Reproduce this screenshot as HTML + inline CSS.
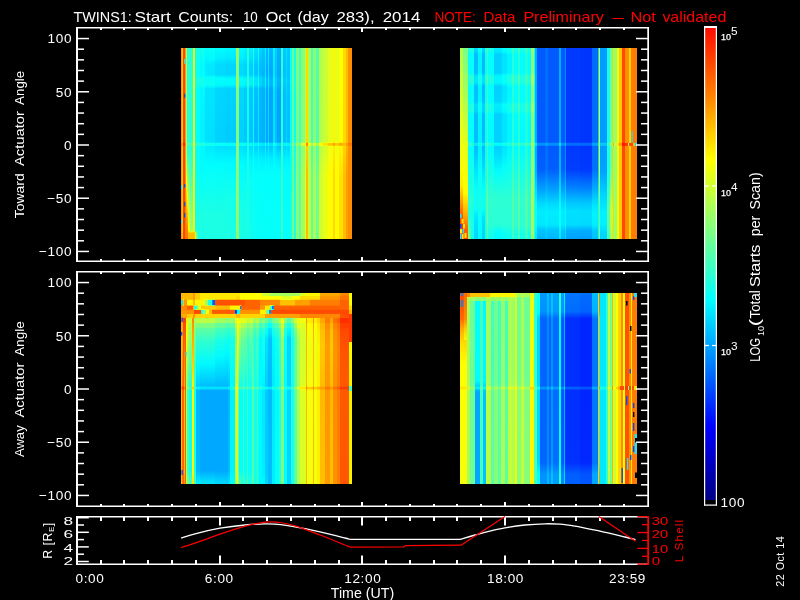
<!DOCTYPE html>
<html><head><meta charset="utf-8"><title>TWINS1 Start Counts</title>
<style>
html,body{margin:0;padding:0;background:#000;}
body{width:800px;height:600px;overflow:hidden;position:relative;font-family:"Liberation Sans", sans-serif;}
.hb{position:absolute;overflow:hidden;}
.hb i{position:absolute;top:0;bottom:0;display:block;}
.hb b{position:absolute;display:block;}
#cb{position:absolute;left:705px;top:28px;width:11px;height:472px;background:linear-gradient(to bottom,#ff0c00 0%,#ff8000 14.2%,#ffff00 28%,#80ff80 42.8%,#00ffff 57.6%,#0080ff 71%,#0000ff 84.5%,#000084 100%);}
svg{position:absolute;left:0;top:0;will-change:transform;}
svg text{font-family:"Liberation Sans", sans-serif;}
</style></head><body>
<div class="hb" style="left:181px;top:48px;width:171px;height:191px"><i style="left:0px;width:1px;background:linear-gradient(#ff9700 0px,#ff9700 93.5px,#ff9000 94.5px,#ff7400 95.5px,#ff7b00 97.5px,#ff9700 98.5px,#ff9700 191px)"></i><i style="left:1px;width:1px;background:linear-gradient(#ffd400 0px,#ffd400 93.5px,#ffcd00 94.5px,#ffb100 95.5px,#ffb800 97.5px,#ffd400 98.5px,#ffd400 182.5px,#ffba00 185.5px,#ffba00 191px)"></i><i style="left:2px;width:2px;background:linear-gradient(#ff4000 0px,#ff4000 93.5px,#ff3900 94.5px,#ff1d00 95.5px,#ff2400 97.5px,#ff4000 98.5px,#ff4000 191px)"></i><i style="left:4px;width:1px;background:linear-gradient(#ffa000 0px,#ffa000 93.5px,#ff9900 94.5px,#ff7d00 95.5px,#ff8400 97.5px,#ffa000 98.5px,#ff7400 191px)"></i><i style="left:5px;width:1px;background:linear-gradient(#a9ff56 0px,#a9ff56 93.5px,#b0ff4f 94.5px,#cbff34 95.5px,#c4ff3b 97.5px,#a9ff56 98.5px,#b8ff47 109.5px,#fffc00 134.5px,#ff8300 180.5px,#ff7400 190.5px,#ff7400 191px)"></i><i style="left:6px;width:1px;background:linear-gradient(#28ffd7 0px,#28ffd7 93.5px,#2fffd0 94.5px,#4affb5 95.5px,#43ffbc 97.5px,#28ffd7 98.5px,#31ffce 105.5px,#81ff7e 123.5px,#fffb00 152.5px,#ff9600 177.5px,#ff7400 188.5px,#ff7400 191px)"></i><i style="left:7px;width:2px;background:linear-gradient(#28ffd7 0px,#28ffd7 93.5px,#2fffd0 94.5px,#4affb5 95.5px,#43ffbc 97.5px,#28ffd7 98.5px,#38ffc7 110.5px,#e2ff1d 173.5px,#f5ff0a 182.5px,#ffc900 184.5px,#ffba00 185.5px,#ffba00 191px)"></i><i style="left:9px;width:3px;background:linear-gradient(#28ffd7 0px,#28ffd7 93.5px,#2fffd0 94.5px,#4affb5 95.5px,#43ffbc 97.5px,#28ffd7 98.5px,#3fffc0 118.5px,#a3ff5c 182.5px,#e4ff1b 183.5px,#ffd900 184.5px,#ffba00 185.5px,#ffba00 191px)"></i><i style="left:12px;width:1px;background:linear-gradient(#eeff11 0px,#eeff11 93.5px,#f5ff0a 94.5px,#ffee00 95.5px,#fff500 97.5px,#eeff11 98.5px,#eeff11 182.5px,#ffee00 183.5px,#ffcb00 184.5px,#ffba00 185.5px,#ffba00 191px)"></i><i style="left:13px;width:1px;background:linear-gradient(#eeff11 0px,#eeff11 93.5px,#f5ff0a 94.5px,#ffee00 95.5px,#fff500 97.5px,#eeff11 98.5px,#eeff11 182.5px,#fff200 183.5px,#ffd400 184.5px,#ffc400 185.5px,#ffc400 191px)"></i><i style="left:14px;width:1px;background:linear-gradient(#16ffe9 0px,#06fff9 23.5px,#08fff7 27.5px,#17ffe8 31.5px,#14ffeb 37.5px,#04fffb 41.5px,#01fffe 93.5px,#0bfff4 94.5px,#2effd1 95.5px,#28ffd7 97.5px,#06fff9 98.5px,#12ffed 145.5px,#1bffe4 173.5px,#1bffe4 182.5px,#afff50 184.5px,#d4ff2b 185.5px,#d4ff2b 191px)"></i><i style="left:15px;width:1px;background:linear-gradient(#17ffe8 0px,#06fff9 22.5px,#09fff6 27.5px,#18ffe7 31.5px,#15ffea 37.5px,#04fffb 41.5px,#01fffe 93.5px,#0bfff4 94.5px,#2effd1 95.5px,#28ffd7 97.5px,#06fff9 98.5px,#12ffed 145.5px,#1bffe4 173.5px,#1bffe4 182.5px,#74ff8b 184.5px,#8aff75 185.5px,#8aff75 191px)"></i><i style="left:16px;width:1px;background:linear-gradient(#18ffe7 0px,#06fff9 22.5px,#09fff6 27.5px,#1affe5 31.5px,#16ffe9 37.5px,#04fffb 40.5px,#01fffe 93.5px,#0bfff4 94.5px,#2effd1 95.5px,#28ffd7 97.5px,#06fff9 98.5px,#12ffed 145.5px,#1bffe4 173.5px,#1bffe4 182.5px,#40ffbf 185.5px,#40ffbf 191px)"></i><i style="left:17px;width:1px;background:linear-gradient(#19ffe6 0px,#0bfff4 13.5px,#0afff5 27.5px,#1bffe4 30.5px,#17ffe8 37.5px,#05fffa 40.5px,#01fffe 93.5px,#0bfff4 94.5px,#2effd1 95.5px,#28ffd7 97.5px,#06fff9 98.5px,#12ffed 145.5px,#1bffe4 173.5px,#1bffe4 191px)"></i><i style="left:18px;width:1px;background:linear-gradient(#1bffe4 0px,#0bfff4 13.5px,#0afff5 27.5px,#1cffe3 30.5px,#18ffe7 37.5px,#05fffa 40.5px,#01fffe 93.5px,#0bfff4 94.5px,#2effd1 95.5px,#28ffd7 97.5px,#06fff9 98.5px,#12ffed 145.5px,#1bffe4 173.5px,#1bffe4 191px)"></i><i style="left:19px;width:1px;background:linear-gradient(#0ffff0 0px,#00f9ff 19.5px,#00fcff 27.5px,#11ffee 31.5px,#0dfff2 37.5px,#00f6ff 40.5px,#00f2ff 93.5px,#00fdff 94.5px,#22ffdd 95.5px,#1bffe4 97.5px,#00f8ff 98.5px,#05fffa 130.5px,#1bffe4 164.5px,#1bffe4 191px)"></i><i style="left:20px;width:1px;background:linear-gradient(#10ffef 0px,#00f9ff 19.5px,#00fdff 27.5px,#12ffed 31.5px,#0efff1 37.5px,#00f6ff 40.5px,#00f2ff 93.5px,#00fdff 94.5px,#22ffdd 95.5px,#1bffe4 97.5px,#00f8ff 98.5px,#05fffa 130.5px,#1bffe4 164.5px,#1bffe4 191px)"></i><i style="left:21px;width:1px;background:linear-gradient(#11ffee 0px,#02fffd 12.5px,#00fdff 27.5px,#13ffec 30.5px,#0ffff0 37.5px,#00f7ff 40.5px,#00f2ff 93.5px,#00fdff 94.5px,#22ffdd 95.5px,#1bffe4 97.5px,#00f8ff 98.5px,#05fffa 130.5px,#1bffe4 164.5px,#1bffe4 191px)"></i><i style="left:22px;width:1px;background:linear-gradient(#12ffed 0px,#03fffc 12.5px,#00feff 27.5px,#14ffeb 30.5px,#10ffef 37.5px,#00fcff 39.5px,#00f2ff 63.5px,#00f2ff 93.5px,#00fdff 94.5px,#22ffdd 95.5px,#1bffe4 97.5px,#00f8ff 98.5px,#05fffa 130.5px,#1bffe4 164.5px,#1bffe4 191px)"></i><i style="left:23px;width:1px;background:linear-gradient(#14ffeb 0px,#06fff9 11.5px,#00f9ff 25.5px,#00feff 27.5px,#16ffe9 30.5px,#11ffee 37.5px,#00fdff 39.5px,#00f2ff 60.5px,#00f2ff 93.5px,#00fdff 94.5px,#22ffdd 95.5px,#1bffe4 97.5px,#00f8ff 98.5px,#05fffa 130.5px,#1bffe4 164.5px,#1bffe4 191px)"></i><i style="left:24px;width:1px;background:linear-gradient(#03fffc 0px,#00f7ff 10.5px,#00e8ff 17.5px,#00ecff 27.5px,#01fffe 29.5px,#01fffe 37.5px,#00e4ff 40.5px,#00e0ff 93.5px,#00ecff 94.5px,#13ffec 95.5px,#0efff1 97.5px,#00ebff 98.5px,#01fffe 118.5px,#1bffe4 166.5px,#1bffe4 191px)"></i><i style="left:25px;width:1px;background:linear-gradient(#04fffb 0px,#00f7ff 10.5px,#00e8ff 17.5px,#00ecff 27.5px,#02fffd 29.5px,#06fff9 36.5px,#00f5ff 38.5px,#00e4ff 40.5px,#00e0ff 93.5px,#00ecff 94.5px,#13ffec 95.5px,#0efff1 97.5px,#00ebff 98.5px,#01fffe 118.5px,#1bffe4 166.5px,#1bffe4 191px)"></i><i style="left:26px;width:1px;background:linear-gradient(#05fffa 0px,#00f8ff 10.5px,#00e8ff 17.5px,#00ecff 27.5px,#02fffd 29.5px,#07fff8 36.5px,#00f6ff 38.5px,#00e5ff 40.5px,#00e0ff 93.5px,#00ecff 94.5px,#13ffec 95.5px,#0efff1 97.5px,#00ebff 98.5px,#01fffe 118.5px,#1bffe4 166.5px,#1bffe4 191px)"></i><i style="left:27px;width:1px;background:linear-gradient(#06fff9 0px,#00f9ff 10.5px,#00e9ff 17.5px,#00e7ff 26.5px,#03fffc 29.5px,#08fff7 36.5px,#00f6ff 38.5px,#00e5ff 40.5px,#00e0ff 93.5px,#00ecff 94.5px,#13ffec 95.5px,#0efff1 97.5px,#00ebff 98.5px,#01fffe 118.5px,#1bffe4 166.5px,#1bffe4 191px)"></i><i style="left:28px;width:1px;background:linear-gradient(#07fff8 0px,#00f9ff 10.5px,#00e9ff 17.5px,#00e7ff 26.5px,#04fffb 29.5px,#09fff6 36.5px,#00f7ff 38.5px,#00e5ff 40.5px,#00e0ff 93.5px,#00ecff 94.5px,#13ffec 95.5px,#0efff1 97.5px,#00ebff 98.5px,#01fffe 118.5px,#1bffe4 166.5px,#1bffe4 191px)"></i><i style="left:29px;width:1px;background:linear-gradient(#08fff7 0px,#00faff 10.5px,#00e9ff 17.5px,#00e7ff 26.5px,#05fffa 29.5px,#0afff5 36.5px,#00f8ff 38.5px,#00e5ff 40.5px,#00dfff 92.5px,#00e0ff 93.5px,#00ecff 94.5px,#13ffec 95.5px,#0efff1 97.5px,#00ebff 98.5px,#01fffe 118.5px,#1bffe4 166.5px,#1bffe4 191px)"></i><i style="left:30px;width:1px;background:linear-gradient(#08fff7 0px,#00faff 10.5px,#00e9ff 17.5px,#00e8ff 26.5px,#05fffa 29.5px,#0bfff4 36.5px,#00f8ff 38.5px,#00e5ff 40.5px,#00dfff 92.5px,#00e0ff 93.5px,#00ecff 94.5px,#13ffec 95.5px,#0efff1 97.5px,#00ebff 98.5px,#01fffe 118.5px,#1bffe4 166.5px,#1bffe4 191px)"></i><i style="left:31px;width:1px;background:linear-gradient(#09fff6 0px,#00fbff 10.5px,#00eaff 16.5px,#00e8ff 26.5px,#06fff9 29.5px,#0cfff3 36.5px,#00f9ff 38.5px,#00e5ff 40.5px,#00dfff 92.5px,#00e0ff 93.5px,#00ecff 94.5px,#13ffec 95.5px,#0efff1 97.5px,#00ebff 98.5px,#01fffe 118.5px,#1bffe4 166.5px,#1bffe4 191px)"></i><i style="left:32px;width:1px;background:linear-gradient(#0afff5 0px,#00fcff 10.5px,#00eaff 16.5px,#00e8ff 26.5px,#07fff8 29.5px,#0cfff3 36.5px,#00f9ff 38.5px,#00e5ff 40.5px,#00dfff 89.5px,#00e0ff 93.5px,#00ecff 94.5px,#13ffec 95.5px,#0efff1 97.5px,#00ebff 98.5px,#01fffe 118.5px,#1bffe4 166.5px,#1bffe4 191px)"></i><i style="left:33px;width:1px;background:linear-gradient(#0bfff4 0px,#00fcff 10.5px,#00eaff 16.5px,#00e8ff 26.5px,#00fbff 28.5px,#0dfff2 31.5px,#0dfff2 36.5px,#00faff 38.5px,#00e6ff 40.5px,#00dfff 86.5px,#00e0ff 93.5px,#00ecff 94.5px,#13ffec 95.5px,#0efff1 97.5px,#00ebff 98.5px,#01fffe 118.5px,#1bffe4 166.5px,#1bffe4 191px)"></i><i style="left:34px;width:10px;background:linear-gradient(#00fdff 0px,#00eeff 10.5px,#00dcff 16.5px,#00daff 26.5px,#01fffe 30.5px,#00f9ff 37.5px,#00d7ff 40.5px,#00d1ff 85.5px,#00d2ff 93.5px,#00dfff 94.5px,#08fff7 95.5px,#05fffa 97.5px,#00e1ff 98.5px,#00fdff 116.5px,#1bffe4 166.5px,#1bffe4 191px)"></i><i style="left:44px;width:11px;background:linear-gradient(#00f8ff 0px,#00e9ff 10.5px,#00d7ff 16.5px,#00d5ff 26.5px,#00fbff 30.5px,#00fbff 36.5px,#00d3ff 40.5px,#00ccff 85.5px,#00cdff 93.5px,#00daff 94.5px,#04fffb 95.5px,#02fffd 97.5px,#00deff 98.5px,#00faff 114.5px,#15ffea 150.5px,#1bffe4 191px)"></i><i style="left:55px;width:3px;background:linear-gradient(#a6ff59 0px,#95ff6a 11.5px,#88ff77 17.5px,#86ff79 26.5px,#a9ff56 30.5px,#a9ff56 36.5px,#84ff7b 40.5px,#7eff81 93.5px,#88ff77 94.5px,#abff54 95.5px,#a5ff5a 97.5px,#83ff7c 98.5px,#8fff70 145.5px,#8fff70 191px)"></i><i style="left:58px;width:1px;background:linear-gradient(#00fdff 0px,#00eeff 10.5px,#00dcff 16.5px,#00daff 26.5px,#01fffe 30.5px,#00f9ff 37.5px,#00d7ff 40.5px,#00d1ff 85.5px,#00d2ff 93.5px,#00dfff 94.5px,#08fff7 95.5px,#05fffa 97.5px,#00e1ff 98.5px,#00fdff 116.5px,#1bffe4 166.5px,#1bffe4 191px)"></i><i style="left:59px;width:1px;background:linear-gradient(#00fdff 0px,#00eeff 10.5px,#00dcff 16.5px,#00daff 26.5px,#01fffe 30.5px,#00f9ff 37.5px,#00d7ff 40.5px,#00d1ff 85.5px,#00d2ff 93.5px,#00dfff 94.5px,#08fff7 95.5px,#05fffa 97.5px,#00e1ff 98.5px,#00fdff 116.5px,#1affe5 166.5px,#1affe5 191px)"></i><i style="left:60px;width:1px;background:linear-gradient(#00fdff 0px,#00eeff 10.5px,#00dcff 16.5px,#00daff 26.5px,#01fffe 30.5px,#00f9ff 37.5px,#00d7ff 40.5px,#00d1ff 85.5px,#00d2ff 93.5px,#00dfff 94.5px,#08fff7 95.5px,#05fffa 97.5px,#00e1ff 98.5px,#00fdff 116.5px,#19ffe6 166.5px,#19ffe6 191px)"></i><i style="left:61px;width:1px;background:linear-gradient(#00fdff 0px,#00eeff 10.5px,#00dcff 16.5px,#00daff 26.5px,#01fffe 30.5px,#00f9ff 37.5px,#00d7ff 40.5px,#00d1ff 85.5px,#00d2ff 93.5px,#00dfff 94.5px,#08fff7 95.5px,#05fffa 97.5px,#00e1ff 98.5px,#00fdff 116.5px,#18ffe7 167.5px,#18ffe7 191px)"></i><i style="left:62px;width:1px;background:linear-gradient(#00fdff 0px,#00eeff 10.5px,#00dcff 16.5px,#00daff 26.5px,#01fffe 30.5px,#00f9ff 37.5px,#00d7ff 40.5px,#00d1ff 85.5px,#00d2ff 93.5px,#00dfff 94.5px,#08fff7 95.5px,#05fffa 97.5px,#00e1ff 98.5px,#00fdff 116.5px,#17ffe8 168.5px,#17ffe8 191px)"></i><i style="left:63px;width:1px;background:linear-gradient(#00f4ff 0px,#00e5ff 10.5px,#00d3ff 16.5px,#00d1ff 26.5px,#00f6ff 30.5px,#00f6ff 36.5px,#00ceff 40.5px,#00c7ff 85.5px,#00c9ff 93.5px,#00d6ff 94.5px,#00ffff 95.5px,#00fdff 97.5px,#00dbff 98.5px,#00f8ff 113.5px,#0afff5 138.5px,#16ffe9 169.5px,#16ffe9 191px)"></i><i style="left:64px;width:1px;background:linear-gradient(#00f4ff 0px,#00e5ff 10.5px,#00d3ff 16.5px,#00d1ff 26.5px,#00f6ff 30.5px,#00f6ff 36.5px,#00ceff 40.5px,#00c7ff 85.5px,#00c9ff 93.5px,#00d6ff 94.5px,#00ffff 95.5px,#00fdff 97.5px,#00dbff 98.5px,#00f8ff 113.5px,#09fff6 138.5px,#15ffea 171.5px,#15ffea 191px)"></i><i style="left:65px;width:1px;background:linear-gradient(#00f4ff 0px,#00e5ff 10.5px,#00d3ff 16.5px,#00d1ff 26.5px,#00f6ff 30.5px,#00f6ff 36.5px,#00ceff 40.5px,#00c7ff 85.5px,#00c9ff 93.5px,#00d6ff 94.5px,#00ffff 95.5px,#00fdff 97.5px,#00dbff 98.5px,#00f8ff 113.5px,#09fff6 138.5px,#14ffeb 173.5px,#14ffeb 191px)"></i><i style="left:66px;width:2px;background:linear-gradient(#36ffc9 0px,#25ffda 11.5px,#18ffe7 17.5px,#16ffe9 26.5px,#39ffc6 30.5px,#39ffc6 36.5px,#14ffeb 40.5px,#0efff1 93.5px,#18ffe7 94.5px,#3bffc4 95.5px,#35ffca 97.5px,#13ffec 98.5px,#1fffe0 145.5px,#1fffe0 191px)"></i><i style="left:68px;width:1px;background:linear-gradient(#00efff 0px,#00e0ff 10.5px,#00ceff 16.5px,#00ccff 26.5px,#00f2ff 30.5px,#00f2ff 36.5px,#00c9ff 40.5px,#00c2ff 85.5px,#00c4ff 93.5px,#00d2ff 94.5px,#00fbff 95.5px,#00faff 97.5px,#00d8ff 98.5px,#00f7ff 113.5px,#05fffa 132.5px,#10ffef 177.5px,#10ffef 191px)"></i><i style="left:69px;width:1px;background:linear-gradient(#00efff 0px,#00e0ff 10.5px,#00ceff 16.5px,#00ccff 26.5px,#00f2ff 30.5px,#00f2ff 36.5px,#00c9ff 40.5px,#00c2ff 85.5px,#00c4ff 93.5px,#00d2ff 94.5px,#00fbff 95.5px,#00faff 97.5px,#00d8ff 98.5px,#00f7ff 113.5px,#05fffa 132.5px,#0ffff0 181.5px,#0ffff0 191px)"></i><i style="left:70px;width:1px;background:linear-gradient(#00efff 0px,#00e0ff 10.5px,#00ceff 16.5px,#00ccff 26.5px,#00f2ff 30.5px,#00f2ff 36.5px,#00c9ff 40.5px,#00c2ff 85.5px,#00c4ff 93.5px,#00d2ff 94.5px,#00fbff 95.5px,#00faff 97.5px,#00d8ff 98.5px,#00f7ff 113.5px,#05fffa 132.5px,#0efff1 188.5px,#0efff1 191px)"></i><i style="left:71px;width:1px;background:linear-gradient(#00efff 0px,#00e0ff 10.5px,#00ceff 16.5px,#00ccff 26.5px,#00f2ff 30.5px,#00f2ff 36.5px,#00c9ff 40.5px,#00c2ff 85.5px,#00c4ff 93.5px,#00d2ff 94.5px,#00fbff 95.5px,#00faff 97.5px,#00d8ff 98.5px,#00f7ff 113.5px,#05fffa 132.5px,#0dfff2 191px)"></i><i style="left:72px;width:1px;background:linear-gradient(#25ffda 0px,#14ffeb 11.5px,#07fff8 17.5px,#05fffa 26.5px,#28ffd7 30.5px,#28ffd7 36.5px,#03fffc 40.5px,#00fcff 93.5px,#07fff8 94.5px,#2affd5 95.5px,#24ffdb 97.5px,#02fffd 98.5px,#0efff1 145.5px,#0efff1 191px)"></i><i style="left:73px;width:1px;background:linear-gradient(#00e5ff 0px,#00d6ff 10.5px,#00c4ff 16.5px,#00c2ff 26.5px,#00e8ff 30.5px,#00e8ff 36.5px,#00c0ff 40.5px,#00b9ff 85.5px,#00bbff 93.5px,#00c9ff 94.5px,#00f3ff 95.5px,#00f3ff 97.5px,#00d1ff 98.5px,#00f4ff 112.5px,#04fffb 127.5px,#0bfff4 191px)"></i><i style="left:74px;width:1px;background:linear-gradient(#00e4ff 0px,#00d6ff 10.5px,#00c4ff 16.5px,#00c2ff 26.5px,#00e7ff 30.5px,#00e7ff 36.5px,#00c0ff 40.5px,#00b9ff 87.5px,#00bbff 93.5px,#00c9ff 94.5px,#00f3ff 95.5px,#00f3ff 97.5px,#00d1ff 98.5px,#00f4ff 112.5px,#04fffb 127.5px,#0afff5 191px)"></i><i style="left:75px;width:1px;background:linear-gradient(#00e3ff 0px,#00d5ff 10.5px,#00c4ff 16.5px,#00c2ff 26.5px,#00e5ff 30.5px,#00e5ff 36.5px,#00bfff 40.5px,#00b9ff 92.5px,#00bbff 93.5px,#00c9ff 94.5px,#00f3ff 95.5px,#00f3ff 97.5px,#00d1ff 98.5px,#00f4ff 112.5px,#04fffb 127.5px,#09fff6 191px)"></i><i style="left:76px;width:1px;background:linear-gradient(#00e1ff 0px,#00d0ff 11.5px,#00c3ff 17.5px,#00c1ff 26.5px,#00e3ff 30.5px,#00e3ff 36.5px,#00bfff 40.5px,#00b9ff 92.5px,#00bbff 93.5px,#00c9ff 94.5px,#00f3ff 95.5px,#00f3ff 97.5px,#00d1ff 98.5px,#00f4ff 112.5px,#04fffb 127.5px,#08fff7 191px)"></i><i style="left:77px;width:1px;background:linear-gradient(#0efff1 0px,#00fbff 12.5px,#00f1ff 20.5px,#00f6ff 27.5px,#0bfff4 29.5px,#10ffef 36.5px,#00ffff 38.5px,#00eeff 40.5px,#00e9ff 93.5px,#00f4ff 94.5px,#1affe5 95.5px,#15ffea 97.5px,#00f1ff 98.5px,#03fffc 120.5px,#07fff8 191px)"></i><i style="left:78px;width:1px;background:linear-gradient(#00d8ff 0px,#00c9ff 11.5px,#00bdff 18.5px,#00c1ff 27.5px,#00daff 30.5px,#00d5ff 37.5px,#00baff 40.5px,#00b6ff 93.5px,#00c5ff 94.5px,#00efff 95.5px,#00efff 97.5px,#00ceff 98.5px,#00f2ff 111.5px,#03fffc 126.5px,#06fff9 191px)"></i><i style="left:79px;width:1px;background:linear-gradient(#00d6ff 0px,#00c8ff 11.5px,#00bdff 18.5px,#00c0ff 27.5px,#00d8ff 30.5px,#00d3ff 37.5px,#00b9ff 40.5px,#00b6ff 93.5px,#00c5ff 94.5px,#00efff 95.5px,#00efff 97.5px,#00ceff 98.5px,#00f2ff 111.5px,#03fffc 126.5px,#05fffa 191px)"></i><i style="left:80px;width:1px;background:linear-gradient(#00d4ff 0px,#00c7ff 11.5px,#00bcff 19.5px,#00c0ff 27.5px,#00d6ff 30.5px,#00d2ff 37.5px,#00b9ff 40.5px,#00b6ff 93.5px,#00c5ff 94.5px,#00efff 95.5px,#00efff 97.5px,#00ceff 98.5px,#00f2ff 111.5px,#03fffc 126.5px,#05fffa 191px)"></i><i style="left:81px;width:1px;background:linear-gradient(#00c9ff 0px,#00b9ff 12.5px,#00b1ff 25.5px,#00beff 28.5px,#00cbff 31.5px,#00c6ff 37.5px,#00afff 40.5px,#00adff 93.5px,#00bcff 94.5px,#00e7ff 95.5px,#00e8ff 97.5px,#00c8ff 98.5px,#00efff 111.5px,#03fffc 125.5px,#05fffa 191px)"></i><i style="left:82px;width:1px;background:linear-gradient(#00c7ff 0px,#00b9ff 12.5px,#00b1ff 26.5px,#00c9ff 30.5px,#00c5ff 37.5px,#00afff 40.5px,#00adff 93.5px,#00bcff 94.5px,#00e7ff 95.5px,#00e8ff 97.5px,#00c8ff 98.5px,#00efff 111.5px,#03fffc 125.5px,#05fffa 191px)"></i><i style="left:83px;width:1px;background:linear-gradient(#00c5ff 0px,#00b8ff 12.5px,#00b0ff 26.5px,#00c7ff 30.5px,#00c3ff 37.5px,#00afff 40.5px,#00adff 93.5px,#00bcff 94.5px,#00e7ff 95.5px,#00e8ff 97.5px,#00c8ff 98.5px,#00efff 111.5px,#03fffc 125.5px,#05fffa 191px)"></i><i style="left:84px;width:1px;background:linear-gradient(#00f3ff 0px,#00e4ff 13.5px,#00e3ff 27.5px,#00f4ff 30.5px,#00f1ff 37.5px,#00deff 40.5px,#00dbff 93.5px,#00e7ff 94.5px,#0ffff0 95.5px,#0bfff4 97.5px,#00e8ff 98.5px,#01fffe 118.5px,#05fffa 191px)"></i><i style="left:85px;width:1px;background:linear-gradient(#00bdff 0px,#00abff 22.5px,#00aeff 27.5px,#00beff 31.5px,#00bbff 37.5px,#00a9ff 41.5px,#00a9ff 93.5px,#00b8ff 94.5px,#00e3ff 95.5px,#00e5ff 97.5px,#00c4ff 98.5px,#00ecff 110.5px,#02fffd 125.5px,#05fffa 191px)"></i><i style="left:86px;width:1px;background:linear-gradient(#00bbff 0px,#00abff 23.5px,#00adff 27.5px,#00bcff 31.5px,#00b9ff 37.5px,#00a9ff 41.5px,#00a9ff 93.5px,#00b8ff 94.5px,#00e3ff 95.5px,#00e5ff 97.5px,#00c4ff 98.5px,#00ecff 110.5px,#02fffd 125.5px,#05fffa 191px)"></i><i style="left:87px;width:1px;background:linear-gradient(#00eeff 0px,#00deff 24.5px,#00e7ff 28.5px,#00efff 32.5px,#00ecff 37.5px,#00ddff 41.5px,#00dbff 93.5px,#00e7ff 94.5px,#0ffff0 95.5px,#0bfff4 97.5px,#00e8ff 98.5px,#01fffe 118.5px,#05fffa 191px)"></i><i style="left:88px;width:1px;background:linear-gradient(#00b5ff 0px,#00a6ff 24.5px,#00aeff 28.5px,#00b6ff 33.5px,#00b3ff 37.5px,#00a4ff 41.5px,#00a4ff 93.5px,#00b3ff 94.5px,#00dfff 95.5px,#00e1ff 97.5px,#00c1ff 98.5px,#00ebff 110.5px,#02fffd 124.5px,#05fffa 191px)"></i><i style="left:89px;width:1px;background:linear-gradient(#00b4ff 0px,#00a5ff 24.5px,#00adff 28.5px,#00b6ff 33.5px,#00b3ff 37.5px,#00a4ff 41.5px,#00a4ff 93.5px,#00b3ff 94.5px,#00dfff 95.5px,#00e1ff 97.5px,#00c1ff 98.5px,#00ebff 110.5px,#02fffd 124.5px,#05fffa 191px)"></i><i style="left:90px;width:2px;background:linear-gradient(#00b4ff 0px,#00a5ff 25.5px,#00b5ff 32.5px,#00b2ff 37.5px,#00a4ff 41.5px,#00a4ff 93.5px,#00b3ff 94.5px,#00dfff 95.5px,#00e1ff 97.5px,#00c1ff 98.5px,#00ebff 110.5px,#02fffd 124.5px,#05fffa 191px)"></i><i style="left:92px;width:1px;background:linear-gradient(#00f6ff 0px,#00e7ff 25.5px,#00f7ff 32.5px,#00f4ff 37.5px,#00e6ff 41.5px,#00e4ff 93.5px,#00f0ff 94.5px,#16ffe9 95.5px,#11ffee 97.5px,#00eeff 98.5px,#02fffd 119.5px,#05fffa 191px)"></i><i style="left:93px;width:1px;background:linear-gradient(#00f5ff 0px,#00e7ff 26.5px,#00f6ff 31.5px,#00f4ff 37.5px,#00e6ff 41.5px,#00e4ff 93.5px,#00f0ff 94.5px,#16ffe9 95.5px,#11ffee 97.5px,#00eeff 98.5px,#02fffd 119.5px,#05fffa 191px)"></i><i style="left:94px;width:1px;background:linear-gradient(#00cfff 0px,#00c1ff 26.5px,#00d0ff 32.5px,#00ceff 37.5px,#00c0ff 41.5px,#00c0ff 93.5px,#00cdff 94.5px,#00f7ff 95.5px,#00f6ff 97.5px,#00d4ff 98.5px,#00f5ff 112.5px,#04fffb 128.5px,#05fffa 191px)"></i><i style="left:95px;width:1px;background:linear-gradient(#00cfff 0px,#00c1ff 26.5px,#00d0ff 32.5px,#00cdff 37.5px,#00c0ff 42.5px,#00c0ff 93.5px,#00cdff 94.5px,#00f7ff 95.5px,#00f6ff 97.5px,#00d4ff 98.5px,#00f5ff 112.5px,#04fffb 128.5px,#05fffa 191px)"></i><i style="left:96px;width:1px;background:linear-gradient(#00b2ff 0px,#00a5ff 26.5px,#00b3ff 32.5px,#00b0ff 37.5px,#00a3ff 42.5px,#00a4ff 93.5px,#00b3ff 94.5px,#00dfff 95.5px,#00e1ff 97.5px,#00c1ff 98.5px,#00ebff 110.5px,#02fffd 124.5px,#05fffa 191px)"></i><i style="left:97px;width:1px;background:linear-gradient(#00b2ff 0px,#00a5ff 26.5px,#00b3ff 32.5px,#00abff 38.5px,#00a3ff 44.5px,#00a4ff 93.5px,#00b3ff 94.5px,#00dfff 95.5px,#00e1ff 97.5px,#00c1ff 98.5px,#00ebff 110.5px,#02fffd 124.5px,#05fffa 191px)"></i><i style="left:98px;width:2px;background:linear-gradient(#00b1ff 0px,#00a5ff 26.5px,#00b2ff 32.5px,#00abff 38.5px,#00a3ff 45.5px,#00a4ff 93.5px,#00b3ff 94.5px,#00dfff 95.5px,#00e1ff 97.5px,#00c1ff 98.5px,#00ebff 110.5px,#02fffd 124.5px,#05fffa 191px)"></i><i style="left:100px;width:1px;background:linear-gradient(#36ffc9 0px,#2bffd4 26.5px,#36ffc9 32.5px,#30ffcf 38.5px,#28ffd7 49.5px,#28ffd7 93.5px,#32ffcd 94.5px,#55ffaa 95.5px,#4fffb0 97.5px,#2dffd2 98.5px,#39ffc6 145.5px,#39ffc6 191px)"></i><i style="left:101px;width:1px;background:linear-gradient(#35ffca 0px,#2bffd4 26.5px,#36ffc9 33.5px,#30ffcf 38.5px,#28ffd7 51.5px,#28ffd7 93.5px,#32ffcd 94.5px,#55ffaa 95.5px,#4fffb0 97.5px,#2dffd2 98.5px,#39ffc6 145.5px,#39ffc6 191px)"></i><i style="left:102px;width:1px;background:linear-gradient(#00ccff 0px,#00c1ff 26.5px,#00cdff 32.5px,#00c7ff 38.5px,#00beff 47.5px,#00c0ff 93.5px,#00cdff 94.5px,#00f7ff 95.5px,#00f6ff 97.5px,#00d4ff 98.5px,#00f5ff 112.5px,#04fffb 128.5px,#05fffa 191px)"></i><i style="left:103px;width:1px;background:linear-gradient(#00ccff 0px,#00c1ff 26.5px,#00cdff 32.5px,#00c6ff 38.5px,#00beff 48.5px,#00c0ff 93.5px,#00cdff 94.5px,#00f7ff 95.5px,#00f6ff 97.5px,#00d4ff 98.5px,#00f5ff 112.5px,#04fffb 128.5px,#05fffa 191px)"></i><i style="left:104px;width:1px;background:linear-gradient(#00ccff 0px,#00c1ff 26.5px,#00ccff 32.5px,#00c6ff 38.5px,#00beff 49.5px,#00c0ff 93.5px,#00cdff 94.5px,#00f7ff 95.5px,#00f6ff 97.5px,#00d4ff 98.5px,#00f5ff 112.5px,#04fffb 128.5px,#05fffa 191px)"></i><i style="left:105px;width:1px;background:linear-gradient(#00e3ff 0px,#00d8ff 26.5px,#00e4ff 33.5px,#00deff 38.5px,#00d5ff 51.5px,#00d7ff 93.5px,#00e3ff 94.5px,#0bfff4 95.5px,#08fff7 97.5px,#00e4ff 98.5px,#00ffff 117.5px,#05fffa 191px)"></i><i style="left:106px;width:1px;background:linear-gradient(#00cbff 0px,#00c2ff 27.5px,#00ccff 33.5px,#00c2ff 39.5px,#00c0ff 93.5px,#00cdff 94.5px,#00f7ff 95.5px,#00f6ff 97.5px,#00d4ff 98.5px,#00f5ff 112.5px,#04fffb 128.5px,#05fffa 191px)"></i><i style="left:107px;width:1px;background:linear-gradient(#00caff 0px,#00c2ff 27.5px,#00cbff 33.5px,#00c2ff 39.5px,#00c0ff 93.5px,#00cdff 94.5px,#00f7ff 95.5px,#00f6ff 97.5px,#00d4ff 98.5px,#00f5ff 112.5px,#04fffb 128.5px,#05fffa 191px)"></i><i style="left:108px;width:1px;background:linear-gradient(#00caff 0px,#00c2ff 27.5px,#00cbff 33.5px,#00bfff 46.5px,#00c0ff 93.5px,#00cdff 94.5px,#00f7ff 95.5px,#00f6ff 97.5px,#00d4ff 98.5px,#00f5ff 112.5px,#04fffb 128.5px,#05fffa 191px)"></i><i style="left:109px;width:1px;background:linear-gradient(#10ffef 0px,#09fff6 27.5px,#11ffee 35.5px,#06fff9 45.5px,#06fff9 93.5px,#0ffff0 94.5px,#33ffcc 95.5px,#2cffd3 97.5px,#0bfff4 98.5px,#16ffe9 145.5px,#16ffe9 191px)"></i><i style="left:110px;width:1px;background:linear-gradient(#10ffef 0px,#09fff6 27.5px,#11ffee 35.5px,#06fff9 46.5px,#06fff9 93.5px,#0ffff0 94.5px,#33ffcc 95.5px,#2cffd3 97.5px,#0bfff4 98.5px,#16ffe9 145.5px,#16ffe9 191px)"></i><i style="left:111px;width:1px;background:linear-gradient(#66ff99 0px,#5fffa0 27.5px,#66ff99 36.5px,#5cffa3 45.5px,#5cffa3 93.5px,#65ff9a 94.5px,#89ff76 95.5px,#82ff7d 97.5px,#61ff9e 98.5px,#6dff92 145.5px,#6dff92 191px)"></i><i style="left:112px;width:1px;background:linear-gradient(#65ff9a 0px,#5fffa0 27.5px,#66ff99 36.5px,#5cffa3 45.5px,#5cffa3 93.5px,#65ff9a 94.5px,#89ff76 95.5px,#82ff7d 97.5px,#61ff9e 98.5px,#6dff92 145.5px,#6dff92 191px)"></i><i style="left:113px;width:1px;background:linear-gradient(#18ffe7 0px,#11ffee 27.5px,#18ffe7 36.5px,#0ffff0 45.5px,#0efff1 93.5px,#18ffe7 94.5px,#3bffc4 95.5px,#35ffca 97.5px,#13ffec 98.5px,#1fffe0 145.5px,#1fffe0 191px)"></i><i style="left:114px;width:1px;background:linear-gradient(#17ffe8 0px,#11ffee 27.5px,#18ffe7 36.5px,#0efff1 46.5px,#0efff1 93.5px,#18ffe7 94.5px,#3bffc4 95.5px,#35ffca 97.5px,#13ffec 98.5px,#1fffe0 145.5px,#1fffe0 191px)"></i><i style="left:115px;width:2px;background:linear-gradient(#7eff81 0px,#7bff84 28.5px,#7bff84 38.5px,#76ff89 93.5px,#7fff80 94.5px,#a3ff5c 95.5px,#9cff63 97.5px,#7bff84 98.5px,#86ff79 145.5px,#86ff79 191px)"></i><i style="left:117px;width:1px;background:linear-gradient(#7eff81 0px,#7bff84 28.5px,#7aff85 38.5px,#76ff89 93.5px,#7fff80 94.5px,#a3ff5c 95.5px,#9cff63 97.5px,#7bff84 98.5px,#86ff79 145.5px,#86ff79 191px)"></i><i style="left:118px;width:1px;background:linear-gradient(#4affb5 0px,#47ffb8 28.5px,#47ffb8 38.5px,#42ffbd 93.5px,#4cffb3 94.5px,#6fff90 95.5px,#68ff97 97.5px,#47ffb8 98.5px,#53ffac 145.5px,#53ffac 191px)"></i><i style="left:119px;width:1px;background:linear-gradient(#41ffbe 0px,#42ffbd 93.5px,#54ffab 94.5px,#93ff6c 95.5px,#95ff6a 96.5px,#87ff78 97.5px,#4bffb4 98.5px,#5fffa0 127.5px,#60ff9f 191px)"></i><i style="left:120px;width:4px;background:linear-gradient(#86ff79 0px,#87ff78 93.5px,#99ff66 94.5px,#d8ff27 95.5px,#daff25 96.5px,#ccff33 97.5px,#90ff6f 98.5px,#a4ff5b 127.5px,#a5ff5a 191px)"></i><i style="left:124px;width:1px;background:linear-gradient(#baff45 0px,#bbff44 93.5px,#ccff33 94.5px,#fff200 95.5px,#fff000 96.5px,#fffe00 97.5px,#c4ff3b 98.5px,#d8ff27 127.5px,#d8ff27 191px)"></i><i style="left:125px;width:2px;background:linear-gradient(#ffdc00 0px,#ffdb00 93.5px,#ffca00 94.5px,#ff8a00 95.5px,#ff8800 96.5px,#ff9600 97.5px,#ffd300 98.5px,#ffbf00 127.5px,#ffbe00 191px)"></i><i style="left:127px;width:3px;background:linear-gradient(#a9ff56 0px,#aaff55 93.5px,#bbff44 94.5px,#fbff04 95.5px,#fdff02 96.5px,#efff10 97.5px,#b3ff4c 98.5px,#c6ff39 127.5px,#c7ff38 191px)"></i><i style="left:130px;width:2px;background:linear-gradient(#41ffbe 0px,#42ffbd 93.5px,#54ffab 94.5px,#93ff6c 95.5px,#95ff6a 96.5px,#87ff78 97.5px,#4bffb4 98.5px,#5fffa0 127.5px,#60ff9f 191px)"></i><i style="left:132px;width:3px;background:linear-gradient(#86ff79 0px,#87ff78 93.5px,#99ff66 94.5px,#d8ff27 95.5px,#daff25 96.5px,#ccff33 97.5px,#90ff6f 98.5px,#a4ff5b 127.5px,#a5ff5a 191px)"></i><i style="left:135px;width:3px;background:linear-gradient(#53ffac 0px,#54ffab 93.5px,#65ff9a 94.5px,#a5ff5a 95.5px,#a6ff59 96.5px,#99ff66 97.5px,#5cffa3 98.5px,#70ff8f 127.5px,#71ff8e 191px)"></i><i style="left:138px;width:4px;background:linear-gradient(#b1ff4e 0px,#b2ff4d 93.5px,#c4ff3b 94.5px,#fffb00 95.5px,#f7ff08 97.5px,#bbff44 98.5px,#cfff30 127.5px,#d0ff2f 191px)"></i><i style="left:142px;width:5px;background:linear-gradient(#cbff34 0px,#ccff33 93.5px,#ddff22 94.5px,#ffe100 95.5px,#ffdf00 96.5px,#ffed00 97.5px,#d5ff2a 98.5px,#e9ff16 127.5px,#e9ff16 191px)"></i><i style="left:147px;width:5px;background:linear-gradient(#e5ff1a 0px,#e6ff19 93.5px,#f7ff08 94.5px,#ffc600 95.5px,#ffc500 96.5px,#ffd300 97.5px,#efff10 98.5px,#fffc00 122.5px,#fffb00 191px)"></i><i style="left:152px;width:2px;background:linear-gradient(#fff600 0px,#fff500 93.5px,#ffe400 94.5px,#ffa400 95.5px,#ffa200 96.5px,#ffb000 97.5px,#ffed00 98.5px,#ffd900 127.5px,#ffd800 191px)"></i><i style="left:154px;width:4px;background:linear-gradient(#e5ff1a 0px,#e6ff19 93.5px,#f7ff08 94.5px,#ffc600 95.5px,#ffc500 96.5px,#ffd300 97.5px,#efff10 98.5px,#fffc00 122.5px,#fffb00 191px)"></i><i style="left:158px;width:4px;background:linear-gradient(#ffff00 0px,#fffe00 93.5px,#ffed00 94.5px,#ffac00 95.5px,#ffab00 96.5px,#ffb900 97.5px,#fff500 98.5px,#ffe100 127.5px,#ffe100 191px)"></i><i style="left:162px;width:3px;background:linear-gradient(#ffdc00 0px,#ffdb00 93.5px,#ffd400 94.5px,#ffbe00 95.5px,#ffbf00 97.5px,#ffd300 98.5px,#ffbf00 127.5px,#ffbe00 191px)"></i><i style="left:165px;width:2px;background:linear-gradient(#ffba00 0px,#ffb900 93.5px,#ffb200 94.5px,#ff9b00 95.5px,#ff9d00 97.5px,#ffb000 98.5px,#ff9c00 127.5px,#ff9b00 191px)"></i><i style="left:167px;width:4px;background:linear-gradient(#ff8e00 0px,#ff8e00 93.5px,#ff8900 94.5px,#ff7400 95.5px,#ff7900 97.5px,#ff8e00 98.5px,#ff8e00 191px)"></i></div>
<div class="hb" style="left:460px;top:48px;width:177px;height:191px"><i style="left:0px;width:3px;background:linear-gradient(#b2ff4d 0px,#e9ff16 75.5px,#fff900 121.5px,#ffeb00 137.5px,#ff6f00 162.5px,#ff3e00 175.5px,#ff2700 191px)"></i><i style="left:3px;width:5px;background:linear-gradient(#76ff89 0px,#baff45 63.5px,#e8ff17 97.5px,#fffb00 144.5px,#ffac00 166.5px,#ff5f00 181.5px,#ff4a00 191px)"></i><i style="left:8px;width:1px;background:linear-gradient(#1fffe0 0px,#1bffe4 3.5px,#05fffa 6.5px,#05fffa 24.5px,#28ffd7 28.5px,#22ffdd 35.5px,#05fffa 38.5px,#09fff6 53.5px,#1fffe0 56.5px,#1bffe4 63.5px,#05fffa 66.5px,#05fffa 93.5px,#0efff1 94.5px,#30ffcf 95.5px,#28ffd7 97.5px,#05fffa 98.5px,#28ffd7 154.5px,#1effe1 164.5px,#1fffe0 168.5px,#a3ff5c 191px)"></i><i style="left:9px;width:1px;background:linear-gradient(#1fffe0 0px,#1bffe4 3.5px,#05fffa 6.5px,#05fffa 24.5px,#28ffd7 28.5px,#22ffdd 35.5px,#05fffa 38.5px,#09fff6 53.5px,#1fffe0 56.5px,#1bffe4 63.5px,#05fffa 66.5px,#05fffa 93.5px,#0efff1 94.5px,#30ffcf 95.5px,#28ffd7 97.5px,#05fffa 98.5px,#28ffd7 154.5px,#1effe1 164.5px,#1dffe2 168.5px,#79ff86 191px)"></i><i style="left:10px;width:1px;background:linear-gradient(#1fffe0 0px,#1bffe4 3.5px,#05fffa 6.5px,#05fffa 24.5px,#28ffd7 28.5px,#22ffdd 35.5px,#05fffa 38.5px,#09fff6 53.5px,#1fffe0 56.5px,#1bffe4 63.5px,#05fffa 66.5px,#05fffa 93.5px,#0efff1 94.5px,#30ffcf 95.5px,#28ffd7 97.5px,#05fffa 98.5px,#28ffd7 154.5px,#1effe1 164.5px,#1cffe3 169.5px,#4fffb0 191px)"></i><i style="left:11px;width:1px;background:linear-gradient(#1fffe0 0px,#1bffe4 3.5px,#05fffa 6.5px,#05fffa 24.5px,#28ffd7 28.5px,#22ffdd 35.5px,#05fffa 38.5px,#09fff6 53.5px,#1fffe0 56.5px,#1bffe4 63.5px,#05fffa 66.5px,#05fffa 93.5px,#0efff1 94.5px,#30ffcf 95.5px,#28ffd7 97.5px,#05fffa 98.5px,#28ffd7 154.5px,#1effe1 164.5px,#1affe5 173.5px,#25ffda 191px)"></i><i style="left:12px;width:2px;background:linear-gradient(#1fffe0 0px,#1bffe4 3.5px,#05fffa 6.5px,#05fffa 24.5px,#28ffd7 28.5px,#22ffdd 35.5px,#05fffa 38.5px,#09fff6 53.5px,#1fffe0 56.5px,#1bffe4 63.5px,#05fffa 66.5px,#05fffa 93.5px,#0efff1 94.5px,#30ffcf 95.5px,#28ffd7 97.5px,#05fffa 98.5px,#28ffd7 154.5px,#1effe1 164.5px,#12ffed 181.5px,#10ffef 191px)"></i><i style="left:14px;width:4px;background:linear-gradient(#00daff 0px,#00d5ff 3.5px,#00beff 6.5px,#00beff 24.5px,#00e4ff 28.5px,#00e4ff 34.5px,#00beff 38.5px,#00c2ff 53.5px,#00daff 56.5px,#00d5ff 63.5px,#00beff 66.5px,#00beff 93.5px,#00c7ff 94.5px,#00edff 95.5px,#00e4ff 97.5px,#00beff 98.5px,#00d4ff 113.5px,#04fffb 140.5px,#0efff1 154.5px,#07fff8 161.5px,#00edff 166.5px,#00e1ff 174.5px,#00d6ff 191px)"></i><i style="left:18px;width:4px;background:linear-gradient(#0efff1 0px,#09fff6 3.5px,#00f6ff 5.5px,#00f2ff 24.5px,#05fffa 26.5px,#16ffe9 28.5px,#11ffee 35.5px,#00f8ff 37.5px,#00f2ff 41.5px,#00f6ff 53.5px,#09fff6 55.5px,#09fff6 63.5px,#00f6ff 65.5px,#00f2ff 93.5px,#00fbff 94.5px,#1fffe0 95.5px,#16ffe9 97.5px,#00f2ff 98.5px,#07fff8 125.5px,#16ffe9 157.5px,#03fffc 174.5px,#00fdff 191px)"></i><i style="left:22px;width:3px;background:linear-gradient(#00d5ff 0px,#00d1ff 3.5px,#00b9ff 6.5px,#00b9ff 24.5px,#00dfff 28.5px,#00dfff 34.5px,#00b9ff 38.5px,#00beff 53.5px,#00d5ff 56.5px,#00d1ff 63.5px,#00b9ff 66.5px,#00b9ff 93.5px,#00c2ff 94.5px,#00e8ff 95.5px,#00dfff 97.5px,#00b9ff 98.5px,#00ccff 111.5px,#04fffb 140.5px,#0efff1 153.5px,#0bfff4 160.5px,#00f6ff 164.5px,#00e2ff 169.5px,#00d3ff 191px)"></i><i style="left:25px;width:1px;background:linear-gradient(#1fffe0 0px,#1bffe4 3.5px,#05fffa 6.5px,#05fffa 24.5px,#28ffd7 28.5px,#22ffdd 35.5px,#05fffa 38.5px,#09fff6 53.5px,#1fffe0 56.5px,#1bffe4 63.5px,#05fffa 66.5px,#05fffa 93.5px,#0efff1 94.5px,#30ffcf 95.5px,#28ffd7 97.5px,#05fffa 98.5px,#28ffd7 154.5px,#1effe1 164.5px,#12ffed 181.5px,#10ffef 191px)"></i><i style="left:26px;width:1px;background:linear-gradient(#1fffe0 0px,#1bffe4 3.5px,#05fffa 6.5px,#05fffa 24.5px,#28ffd7 28.5px,#22ffdd 35.5px,#05fffa 38.5px,#09fff6 53.5px,#1fffe0 56.5px,#1bffe4 63.5px,#05fffa 66.5px,#05fffa 93.5px,#0efff1 94.5px,#30ffcf 95.5px,#28ffd7 97.5px,#05fffa 98.5px,#39ffc6 151.5px,#34ffcb 177.5px,#20ffdf 185.5px,#1dffe2 191px)"></i><i style="left:27px;width:1px;background:linear-gradient(#53ffac 0px,#4effb1 3.5px,#39ffc6 6.5px,#39ffc6 24.5px,#5bffa4 28.5px,#56ffa9 35.5px,#39ffc6 38.5px,#3dffc2 53.5px,#53ffac 56.5px,#4effb1 63.5px,#39ffc6 66.5px,#39ffc6 93.5px,#41ffbe 94.5px,#64ff9b 95.5px,#5bffa4 97.5px,#39ffc6 98.5px,#6dff92 151.5px,#68ff97 177.5px,#54ffab 185.5px,#50ffaf 191px)"></i><i style="left:28px;width:6px;background:linear-gradient(#16ffe9 0px,#12ffed 3.5px,#01fffe 5.5px,#02fffd 25.5px,#1fffe0 28.5px,#19ffe6 35.5px,#02fffd 37.5px,#01fffe 53.5px,#16ffe9 56.5px,#12ffed 63.5px,#01fffe 65.5px,#00fbff 93.5px,#05fffa 94.5px,#28ffd7 95.5px,#1fffe0 97.5px,#00fbff 98.5px,#10ffef 117.5px,#30ffcf 151.5px,#2bffd4 177.5px,#17ffe8 185.5px,#14ffeb 191px)"></i><i style="left:34px;width:8px;background:linear-gradient(#00edff 0px,#00e8ff 3.5px,#00d1ff 6.5px,#00d1ff 24.5px,#00f6ff 28.5px,#00f6ff 34.5px,#00d1ff 38.5px,#00d5ff 53.5px,#00edff 56.5px,#00e8ff 63.5px,#00d1ff 66.5px,#00d1ff 93.5px,#00daff 94.5px,#01fffe 95.5px,#00f6ff 97.5px,#00d1ff 98.5px,#00dfff 108.5px,#04fffb 124.5px,#2cffd3 149.5px,#29ffd6 176.5px,#05fffa 183.5px,#00fcff 191px)"></i><i style="left:42px;width:5px;background:linear-gradient(#01fffe 0px,#00fbff 3.5px,#00e4ff 6.5px,#00e4ff 24.5px,#04fffb 27.5px,#09fff6 34.5px,#00f6ff 36.5px,#00e4ff 38.5px,#00e8ff 53.5px,#01fffe 56.5px,#00fbff 63.5px,#00e4ff 66.5px,#00e4ff 93.5px,#00edff 94.5px,#12ffed 95.5px,#09fff6 97.5px,#00e4ff 98.5px,#06fff9 120.5px,#2cffd3 150.5px,#2affd5 176.5px,#0cfff3 184.5px,#06fff9 191px)"></i><i style="left:47px;width:5px;background:linear-gradient(#12ffed 0px,#0efff1 3.5px,#00f6ff 6.5px,#00f6ff 24.5px,#09fff6 26.5px,#1bffe4 28.5px,#15ffea 35.5px,#00fdff 37.5px,#00f6ff 41.5px,#00fbff 53.5px,#12ffed 57.5px,#0efff1 63.5px,#00f6ff 66.5px,#00f6ff 93.5px,#01fffe 94.5px,#23ffdc 95.5px,#1bffe4 97.5px,#00f6ff 98.5px,#09fff6 115.5px,#2cffd3 151.5px,#27ffd8 177.5px,#13ffec 185.5px,#10ffef 191px)"></i><i style="left:52px;width:2px;background:linear-gradient(#41ffbe 0px,#3dffc2 3.5px,#28ffd7 6.5px,#28ffd7 24.5px,#4affb5 28.5px,#44ffbb 35.5px,#28ffd7 38.5px,#2cffd3 53.5px,#41ffbe 56.5px,#3dffc2 63.5px,#28ffd7 66.5px,#28ffd7 93.5px,#30ffcf 94.5px,#53ffac 95.5px,#4affb5 97.5px,#28ffd7 98.5px,#5bffa4 151.5px,#56ffa9 177.5px,#42ffbd 185.5px,#3fffc0 191px)"></i><i style="left:54px;width:4px;background:linear-gradient(#16ffe9 0px,#12ffed 3.5px,#01fffe 5.5px,#02fffd 25.5px,#1fffe0 28.5px,#19ffe6 35.5px,#02fffd 37.5px,#01fffe 53.5px,#16ffe9 56.5px,#12ffed 63.5px,#01fffe 65.5px,#00fbff 93.5px,#05fffa 94.5px,#28ffd7 95.5px,#1fffe0 97.5px,#00fbff 98.5px,#10ffef 117.5px,#30ffcf 151.5px,#2bffd4 177.5px,#17ffe8 185.5px,#14ffeb 191px)"></i><i style="left:58px;width:2px;background:linear-gradient(#41ffbe 0px,#3dffc2 3.5px,#28ffd7 6.5px,#28ffd7 24.5px,#4affb5 28.5px,#44ffbb 35.5px,#28ffd7 38.5px,#2cffd3 53.5px,#41ffbe 56.5px,#3dffc2 63.5px,#28ffd7 66.5px,#28ffd7 93.5px,#30ffcf 94.5px,#53ffac 95.5px,#4affb5 97.5px,#28ffd7 98.5px,#5bffa4 151.5px,#56ffa9 177.5px,#42ffbd 185.5px,#3fffc0 191px)"></i><i style="left:60px;width:5px;background:linear-gradient(#16ffe9 0px,#12ffed 3.5px,#01fffe 5.5px,#02fffd 25.5px,#1fffe0 28.5px,#19ffe6 35.5px,#02fffd 37.5px,#01fffe 53.5px,#16ffe9 56.5px,#12ffed 63.5px,#01fffe 65.5px,#00fbff 93.5px,#05fffa 94.5px,#28ffd7 95.5px,#1fffe0 97.5px,#00fbff 98.5px,#10ffef 117.5px,#30ffcf 151.5px,#2bffd4 177.5px,#17ffe8 185.5px,#14ffeb 191px)"></i><i style="left:65px;width:3px;background:linear-gradient(#39ffc6 0px,#35ffca 3.5px,#1fffe0 6.5px,#1fffe0 24.5px,#41ffbe 28.5px,#3cffc3 35.5px,#1fffe0 38.5px,#23ffdc 53.5px,#39ffc6 56.5px,#35ffca 63.5px,#1fffe0 66.5px,#1fffe0 93.5px,#28ffd7 94.5px,#4affb5 95.5px,#41ffbe 97.5px,#1fffe0 98.5px,#53ffac 151.5px,#4effb1 177.5px,#3affc5 185.5px,#37ffc8 191px)"></i><i style="left:68px;width:3px;background:linear-gradient(#16ffe9 0px,#12ffed 3.5px,#01fffe 5.5px,#02fffd 25.5px,#1fffe0 28.5px,#19ffe6 35.5px,#02fffd 37.5px,#01fffe 53.5px,#16ffe9 56.5px,#12ffed 63.5px,#01fffe 65.5px,#00fbff 93.5px,#05fffa 94.5px,#28ffd7 95.5px,#1fffe0 97.5px,#00fbff 98.5px,#10ffef 117.5px,#30ffcf 151.5px,#2bffd4 177.5px,#17ffe8 185.5px,#14ffeb 191px)"></i><i style="left:71px;width:3px;background:linear-gradient(#a0ff5f 0px,#9cff63 3.5px,#86ff79 6.5px,#86ff79 24.5px,#a9ff56 28.5px,#a3ff5c 35.5px,#86ff79 38.5px,#8bff74 53.5px,#a0ff5f 56.5px,#9cff63 63.5px,#86ff79 66.5px,#86ff79 93.5px,#8fff70 94.5px,#b1ff4e 95.5px,#a9ff56 97.5px,#86ff79 98.5px,#a9ff56 154.5px,#a3ff5c 178.5px,#96ff69 191px)"></i><i style="left:74px;width:1px;background:linear-gradient(#30ffcf 0px,#2cffd3 3.5px,#16ffe9 6.5px,#16ffe9 24.5px,#39ffc6 28.5px,#33ffcc 35.5px,#16ffe9 38.5px,#1bffe4 53.5px,#30ffcf 56.5px,#2cffd3 63.5px,#16ffe9 66.5px,#16ffe9 93.5px,#1fffe0 94.5px,#41ffbe 95.5px,#39ffc6 97.5px,#16ffe9 98.5px,#39ffc6 154.5px,#33ffcc 178.5px,#26ffd9 191px)"></i><i style="left:75px;width:2px;background:linear-gradient(#00afff 0px,#00afff 93.5px,#00baff 94.5px,#00e4ff 95.5px,#00e4ff 96.5px,#00d9ff 97.5px,#00afff 98.5px,#00b4ff 122.5px,#00e6ff 145.5px,#04fffb 158.5px,#09fff6 175.5px,#00fbff 179.5px,#00ecff 186.5px,#00e8ff 191px)"></i><i style="left:77px;width:8px;background:linear-gradient(#005aff 0px,#005aff 93.5px,#0064ff 94.5px,#008eff 95.5px,#008eff 96.5px,#0084ff 97.5px,#005aff 98.5px,#005fff 121.5px,#00a1ff 141.5px,#00d8ff 155.5px,#00ecff 163.5px,#00e8ff 176.5px,#00c2ff 182.5px,#00b5ff 191px)"></i><i style="left:85px;width:3px;background:linear-gradient(#006dff 0px,#006dff 93.5px,#0077ff 94.5px,#00a1ff 95.5px,#00a1ff 96.5px,#0097ff 97.5px,#006dff 98.5px,#0071ff 121.5px,#00aeff 141.5px,#00e6ff 157.5px,#00f2ff 165.5px,#00efff 176.5px,#00ccff 182.5px,#00c0ff 191px)"></i><i style="left:88px;width:11px;background:linear-gradient(#005aff 0px,#005aff 93.5px,#0064ff 94.5px,#008eff 95.5px,#008eff 96.5px,#0084ff 97.5px,#005aff 98.5px,#005fff 121.5px,#00a1ff 141.5px,#00d8ff 155.5px,#00ecff 163.5px,#00e8ff 176.5px,#00c2ff 182.5px,#00b5ff 191px)"></i><i style="left:99px;width:2px;background:linear-gradient(#00afff 0px,#00afff 93.5px,#00baff 94.5px,#00e4ff 95.5px,#00e4ff 96.5px,#00d9ff 97.5px,#00afff 98.5px,#00b4ff 122.5px,#00e6ff 145.5px,#04fffb 158.5px,#09fff6 175.5px,#00fbff 179.5px,#00ecff 186.5px,#00e8ff 191px)"></i><i style="left:101px;width:4px;background:linear-gradient(#005aff 0px,#005aff 93.5px,#0064ff 94.5px,#008eff 95.5px,#008eff 96.5px,#0084ff 97.5px,#005aff 98.5px,#005fff 121.5px,#00a1ff 141.5px,#00d8ff 155.5px,#00ecff 163.5px,#00e8ff 176.5px,#00c2ff 182.5px,#00b5ff 191px)"></i><i style="left:105px;width:1px;background:linear-gradient(#0089ff 0px,#0089ff 93.5px,#0094ff 94.5px,#00beff 95.5px,#00beff 96.5px,#00b3ff 97.5px,#0089ff 98.5px,#008dff 121.5px,#00c5ff 142.5px,#00fbff 161.5px,#00f9ff 176.5px,#00daff 183.5px,#00d1ff 191px)"></i><i style="left:106px;width:14px;background:linear-gradient(#0039ff 0px,#0039ff 93.5px,#0043ff 94.5px,#006dff 95.5px,#006dff 96.5px,#0063ff 97.5px,#0039ff 98.5px,#003eff 121.5px,#0085ff 140.5px,#00c6ff 154.5px,#00e0ff 163.5px,#00dcff 176.5px,#00b0ff 182.5px,#00a1ff 191px)"></i><i style="left:120px;width:12px;background:linear-gradient(#0034ff 0px,#0034ff 93.5px,#003fff 94.5px,#0068ff 95.5px,#0068ff 96.5px,#005eff 97.5px,#0034ff 98.5px,#0039ff 121.5px,#0082ff 140.5px,#00c4ff 154.5px,#00deff 163.5px,#00daff 176.5px,#00aeff 182.5px,#009fff 191px)"></i><i style="left:132px;width:6px;background:linear-gradient(#006dff 0px,#006dff 93.5px,#0077ff 94.5px,#00a1ff 95.5px,#00a1ff 96.5px,#0097ff 97.5px,#006dff 98.5px,#0071ff 121.5px,#00aeff 141.5px,#00e6ff 157.5px,#00f2ff 165.5px,#00efff 176.5px,#00ccff 182.5px,#00c0ff 191px)"></i><i style="left:138px;width:1px;background:linear-gradient(#00d5ff 0px,#00d5ff 93.5px,#00e0ff 94.5px,#09fff6 95.5px,#00ffff 97.5px,#00d5ff 98.5px,#00dbff 124.5px,#06fff9 149.5px,#16ffe9 167.5px,#11ffee 177.5px,#01fffe 187.5px,#00feff 191px)"></i><i style="left:139px;width:1px;background:linear-gradient(#ddff22 0px,#ddff22 93.5px,#e6ff19 94.5px,#fff200 95.5px,#fffc00 97.5px,#ddff22 98.5px,#d7ff28 122.5px,#a1ff5e 143.5px,#70ff8f 162.5px,#73ff8c 176.5px,#90ff6f 183.5px,#99ff66 191px)"></i><i style="left:140px;width:7px;background:linear-gradient(#009cff 0px,#009cff 93.5px,#00a6ff 94.5px,#00ccff 95.5px,#00c2ff 97.5px,#009cff 98.5px,#00a1ff 122.5px,#00d3ff 146.5px,#00f2ff 164.5px,#00f0ff 176.5px,#00d7ff 184.5px,#00d2ff 191px)"></i><i style="left:147px;width:3px;background:linear-gradient(#16ffe9 0px,#16ffe9 93.5px,#1fffe0 94.5px,#41ffbe 95.5px,#39ffc6 97.5px,#16ffe9 98.5px,#1cffe3 123.5px,#64ff9b 163.5px,#5fffa0 177.5px,#4bffb4 185.5px,#47ffb8 191px)"></i><i style="left:150px;width:3px;background:linear-gradient(#6dff92 0px,#6dff92 93.5px,#75ff8a 94.5px,#98ff67 95.5px,#8fff70 97.5px,#6dff92 98.5px,#72ff8d 123.5px,#baff45 163.5px,#b5ff4a 177.5px,#a1ff5e 185.5px,#9dff62 191px)"></i><i style="left:153px;width:1px;background:linear-gradient(#ffdc00 0px,#ffdc00 93.5px,#ffd200 94.5px,#ffa800 95.5px,#ffa800 96.5px,#ffb300 97.5px,#ffdc00 98.5px,#ffdc00 191px)"></i><i style="left:154px;width:3px;background:linear-gradient(#98ff67 0px,#98ff67 93.5px,#a2ff5d 94.5px,#cbff34 95.5px,#cbff34 96.5px,#c1ff3e 97.5px,#98ff67 98.5px,#98ff67 191px)"></i><i style="left:157px;width:2px;background:linear-gradient(#eeff11 0px,#eeff11 93.5px,#f8ff07 94.5px,#ffdc00 95.5px,#ffdc00 96.5px,#ffe700 97.5px,#eeff11 98.5px,#eeff11 191px)"></i><i style="left:159px;width:3px;background:linear-gradient(#ffcb00 0px,#ffcb00 93.5px,#ffc100 94.5px,#ff9700 95.5px,#ff9700 96.5px,#ffa100 97.5px,#ffcb00 98.5px,#ffcb00 191px)"></i><i style="left:162px;width:3px;background:linear-gradient(#ff4900 0px,#ff4900 93.5px,#ff3e00 94.5px,#ff1500 95.5px,#ff1500 96.5px,#ff1f00 97.5px,#ff4900 98.5px,#ff4900 191px)"></i><i style="left:165px;width:3px;background:linear-gradient(#ff8e00 0px,#ff8e00 93.5px,#ff8400 94.5px,#ff3700 95.5px,#ff3700 97.5px,#ff8e00 98.5px,#ff8e00 191px)"></i><i style="left:168px;width:1px;background:linear-gradient(#ff8e00 0px,#ff8e00 93.5px,#ff8400 94.5px,#98ff67 95.5px,#98ff67 97.5px,#ff8e00 98.5px,#ff8e00 191px)"></i><i style="left:169px;width:2px;background:linear-gradient(#ffd400 0px,#ffd400 93.5px,#ffc900 94.5px,#ff4900 95.5px,#ff4900 97.5px,#ffd400 98.5px,#ffd400 191px)"></i><i style="left:171px;width:2px;background:linear-gradient(#ff7d00 0px,#ff7d00 93.5px,#ff7200 94.5px,#ff4900 95.5px,#ff4900 97.5px,#ff7d00 98.5px,#ff7d00 191px)"></i><i style="left:173px;width:2px;background:linear-gradient(#ff7d00 0px,#ff7d00 93.5px,#ff7200 94.5px,#ffba00 95.5px,#ffba00 97.5px,#ff7d00 98.5px,#ff7d00 191px)"></i><i style="left:175px;width:2px;background:linear-gradient(#ff7d00 0px,#ff7d00 93.5px,#ff7200 94.5px,#00e8ff 95.5px,#00e8ff 97.5px,#ff7d00 98.5px,#ff7d00 191px)"></i></div>
<div class="hb" style="left:181px;top:293px;width:171px;height:190.5px"><i style="left:0px;width:1px;background:linear-gradient(#ffba00 0px,#ffba00 5.5px,#ffb100 6.5px,#ff9700 7.5px,#ff9700 11.5px,#ff8600 13.5px,#ff8a00 16.5px,#ff9700 17.5px,#ff9900 20.5px,#ffa800 21.5px,#ffa800 24.5px,#ff9b00 25.5px,#ff9b00 29.5px,#ffa900 30.5px,#ffaa00 34.5px,#ffb300 39.5px,#ffba00 60.5px,#ffba00 92.5px,#ffad00 93.5px,#ff8e00 94.5px,#ff8e00 95.5px,#ffba00 97.5px,#ffba00 190.5px)"></i><i style="left:1px;width:1px;background:linear-gradient(#ffba00 0px,#ffba00 5.5px,#ffb100 6.5px,#ff9700 7.5px,#ff9700 11.5px,#ff8600 13.5px,#ff8a00 16.5px,#ff9700 17.5px,#ff9900 20.5px,#ffa800 21.5px,#ffa800 24.5px,#ff9b00 25.5px,#ff9b00 29.5px,#ffa900 30.5px,#ffa800 34.5px,#ffae00 39.5px,#ffad00 49.5px,#ff7000 92.5px,#ff6100 93.5px,#ff4000 94.5px,#ff3e00 95.5px,#ff6400 97.5px,#ff6700 178.5px,#ff8400 190.5px)"></i><i style="left:2px;width:1px;background:linear-gradient(#ffba00 0px,#ffba00 5.5px,#fffb00 6.5px,#41ffbe 7.5px,#41ffbe 11.5px,#cdff32 12.5px,#ff8600 13.5px,#ff8a00 16.5px,#ff9700 17.5px,#ff9900 20.5px,#ffa800 21.5px,#ffa800 24.5px,#ff3c00 25.5px,#ff3c00 29.5px,#ff4a00 30.5px,#ff4b00 34.5px,#ff5400 39.5px,#ff5e00 65.5px,#ff6100 92.5px,#ff5500 93.5px,#ff3700 94.5px,#ff3700 95.5px,#ff6300 97.5px,#ff6000 190.5px)"></i><i style="left:3px;width:1px;background:linear-gradient(#ffba00 0px,#ffba00 5.5px,#ffb100 6.5px,#ff9700 7.5px,#ff9700 11.5px,#ff8600 13.5px,#ff8a00 16.5px,#ff9700 17.5px,#ff9900 20.5px,#ffa800 21.5px,#ffa800 24.5px,#ff3c00 25.5px,#ff3c00 29.5px,#ff4b00 30.5px,#ff4e00 34.5px,#ff5900 39.5px,#ffb900 92.5px,#ffaf00 93.5px,#ff9400 94.5px,#ff9700 95.5px,#ffc900 97.5px,#ffc900 177.5px,#ffa000 189.5px,#ffa000 190.5px)"></i><i style="left:4px;width:1px;background:linear-gradient(#ffba00 0px,#ffba00 5.5px,#ffb100 6.5px,#ff9700 7.5px,#ff9700 11.5px,#ff8600 13.5px,#ff8a00 16.5px,#ff9700 17.5px,#ff9900 20.5px,#ffa800 21.5px,#ffa800 24.5px,#ff3c00 25.5px,#ff3c00 29.5px,#ff4a00 30.5px,#ff4b00 34.5px,#ff5400 39.5px,#ff5e00 65.5px,#ff6100 92.5px,#ff5500 93.5px,#ff3700 94.5px,#ff3700 95.5px,#ff6300 97.5px,#ff6000 190.5px)"></i><i style="left:5px;width:1px;background:linear-gradient(#ffba00 0px,#ffba00 5.5px,#ffb100 6.5px,#ff9700 7.5px,#ff9700 11.5px,#ff8600 13.5px,#ff8a00 16.5px,#ff9700 17.5px,#ff9900 20.5px,#ffa800 21.5px,#ffa800 24.5px,#fff200 25.5px,#fff200 29.5px,#fdff02 30.5px,#fbff04 34.5px,#f1ff0e 39.5px,#b4ff4b 92.5px,#bfff40 93.5px,#dbff24 94.5px,#d9ff26 95.5px,#aaff55 97.5px,#acff53 178.5px,#c3ff3c 190.5px)"></i><i style="left:6px;width:1px;background:linear-gradient(#ffba00 0px,#ffba00 5.5px,#ffc900 6.5px,#fff600 7.5px,#fff600 11.5px,#ffb000 12.5px,#ff5a00 13.5px,#ff5a00 15.5px,#ff6700 16.5px,#ff8e00 17.5px,#ff9400 20.5px,#ffcb00 21.5px,#ffcb00 24.5px,#fff200 25.5px,#fff200 29.5px,#fdff02 30.5px,#f8ff07 34.5px,#ecff13 39.5px,#6dff92 87.5px,#5dffa2 92.5px,#65ff9a 93.5px,#7eff81 94.5px,#79ff86 95.5px,#44ffbb 97.5px,#44ffbb 177.5px,#7bff84 187.5px,#83ff7c 190.5px)"></i><i style="left:7px;width:1px;background:linear-gradient(#ffba00 0px,#ffba00 5.5px,#ffc900 6.5px,#fff600 7.5px,#fff600 11.5px,#ffb000 12.5px,#ff5a00 13.5px,#ff5a00 15.5px,#ff6700 16.5px,#ff8e00 17.5px,#ff9400 20.5px,#ffcb00 21.5px,#ffcb00 24.5px,#c7ff38 25.5px,#c7ff38 29.5px,#b8ff47 30.5px,#b5ff4a 34.5px,#aaff55 39.5px,#52ffad 92.5px,#5cffa3 93.5px,#77ff88 94.5px,#74ff8b 95.5px,#43ffbc 97.5px,#43ffbc 177.5px,#69ff96 189.5px,#69ff96 190.5px)"></i><i style="left:8px;width:3px;background:linear-gradient(#ffba00 0px,#ffba00 5.5px,#ffc900 6.5px,#fff600 7.5px,#fff600 11.5px,#ffb000 12.5px,#ff5a00 13.5px,#ff5a00 15.5px,#ff6700 16.5px,#ff8e00 17.5px,#ff9400 20.5px,#ffcb00 21.5px,#ffcb00 24.5px,#c7ff38 25.5px,#c7ff38 29.5px,#b8ff47 30.5px,#b4ff4b 34.5px,#a8ff57 39.5px,#2bffd4 91.5px,#26ffd9 92.5px,#2fffd0 93.5px,#48ffb7 94.5px,#44ffbb 95.5px,#10ffef 97.5px,#10ffef 177.5px,#45ffba 188.5px,#48ffb7 190.5px)"></i><i style="left:11px;width:1px;background:linear-gradient(#ffba00 0px,#ffba00 5.5px,#ffc900 6.5px,#fff600 7.5px,#fff600 11.5px,#ffb000 12.5px,#ff5a00 13.5px,#ff5a00 15.5px,#ff6700 16.5px,#ff8e00 17.5px,#ff9400 20.5px,#ffcb00 21.5px,#ffcb00 24.5px,#ff8a00 25.5px,#ff8a00 29.5px,#ff9900 30.5px,#ff9b00 34.5px,#ffa600 39.5px,#fff100 92.5px,#ffe700 93.5px,#ffcb00 94.5px,#ffcd00 95.5px,#fffe00 97.5px,#fffa00 178.5px,#ffde00 190.5px)"></i><i style="left:12px;width:1px;background:linear-gradient(#ff9700 0px,#ff9700 5.5px,#ffa000 6.5px,#ffba00 7.5px,#ffba00 15.5px,#ffaf00 16.5px,#ff8e00 17.5px,#ff8f00 20.5px,#ff9700 22.5px,#ff9700 24.5px,#ff8a00 25.5px,#ff8a00 29.5px,#ff9900 30.5px,#ff9b00 34.5px,#ffa600 39.5px,#fff100 92.5px,#ffe700 93.5px,#ffcb00 94.5px,#ffcd00 95.5px,#fffe00 97.5px,#fffa00 178.5px,#ffde00 190.5px)"></i><i style="left:13px;width:1px;background:linear-gradient(#ff9700 0px,#ff9700 5.5px,#ffa000 6.5px,#ffba00 7.5px,#ffba00 11.5px,#bcff43 12.5px,#16ffe9 13.5px,#16ffe9 15.5px,#7eff81 16.5px,#ff4900 17.5px,#ff4900 19.5px,#ff5100 20.5px,#ff9700 21.5px,#ff9700 24.5px,#a5ff5a 25.5px,#a4ff5b 29.5px,#96ff69 30.5px,#92ff6d 34.5px,#87ff78 39.5px,#28ffd7 92.5px,#32ffcd 93.5px,#4dffb2 94.5px,#49ffb6 95.5px,#18ffe7 97.5px,#18ffe7 177.5px,#41ffbe 189.5px,#41ffbe 190.5px)"></i><i style="left:14px;width:1px;background:linear-gradient(#ffcb00 0px,#ffcb00 5.5px,#ffd600 6.5px,#fff600 7.5px,#fff600 11.5px,#9bff64 12.5px,#16ffe9 13.5px,#16ffe9 15.5px,#7eff81 16.5px,#ff4900 17.5px,#ff4900 19.5px,#ff5700 20.5px,#ffd400 21.5px,#ffd400 24.5px,#a5ff5a 25.5px,#a4ff5b 29.5px,#96ff69 30.5px,#92ff6d 34.5px,#87ff78 39.5px,#28ffd7 92.5px,#32ffcd 93.5px,#4dffb2 94.5px,#49ffb6 95.5px,#18ffe7 97.5px,#18ffe7 177.5px,#41ffbe 189.5px,#41ffbe 190.5px)"></i><i style="left:15px;width:2px;background:linear-gradient(#ffcb00 0px,#ffcb00 5.5px,#ffd600 6.5px,#fff600 7.5px,#fff600 11.5px,#c2ff3d 12.5px,#6dff92 13.5px,#6dff92 15.5px,#beff41 16.5px,#ff4900 17.5px,#ff4900 19.5px,#ff5700 20.5px,#ffd400 21.5px,#ffd400 24.5px,#baff45 25.5px,#baff45 29.5px,#81ff7e 30.5px,#7aff85 34.5px,#5fffa0 35.5px,#4bffb4 41.5px,#32ffcd 47.5px,#00faff 73.5px,#00cbff 92.5px,#00d5ff 93.5px,#00f2ff 94.5px,#00eeff 95.5px,#00b6ff 97.5px,#00b7ff 177.5px,#00e8ff 188.5px,#00ecff 190.5px)"></i><i style="left:17px;width:2px;background:linear-gradient(#ffcb00 0px,#ffcb00 5.5px,#ffd600 6.5px,#fff600 7.5px,#fff600 11.5px,#f4ff0b 12.5px,#ddff22 13.5px,#ddff22 15.5px,#ffeb00 16.5px,#ff4900 17.5px,#ff4900 19.5px,#ff5700 20.5px,#ffd400 21.5px,#ffd400 24.5px,#baff45 25.5px,#baff45 29.5px,#81ff7e 30.5px,#7aff85 34.5px,#5fffa0 35.5px,#4bffb4 41.5px,#32ffcd 47.5px,#00faff 73.5px,#00cbff 92.5px,#00d5ff 93.5px,#00f2ff 94.5px,#00eeff 95.5px,#00b6ff 97.5px,#00b7ff 177.5px,#00e8ff 188.5px,#00ecff 190.5px)"></i><i style="left:19px;width:1px;background:linear-gradient(#ffe900 0px,#ffed00 6.5px,#fff600 8.5px,#fff600 11.5px,#f4ff0b 12.5px,#ddff22 13.5px,#ddff22 15.5px,#ffeb00 16.5px,#ff4900 17.5px,#ff4900 19.5px,#ff5700 20.5px,#ffd400 21.5px,#ffd400 24.5px,#baff45 25.5px,#baff45 29.5px,#81ff7e 30.5px,#7aff85 34.5px,#5fffa0 35.5px,#4affb5 41.5px,#31ffce 47.5px,#00faff 70.5px,#00bfff 92.5px,#00c9ff 93.5px,#00e5ff 94.5px,#00e1ff 95.5px,#00a8ff 97.5px,#00a9ff 177.5px,#00dfff 188.5px,#00e3ff 190.5px)"></i><i style="left:20px;width:2px;background:linear-gradient(#ffe900 0px,#ffed00 6.5px,#fff600 8.5px,#fff600 11.5px,#ffcb00 13.5px,#ffcb00 15.5px,#ecff13 16.5px,#16ffe9 17.5px,#16ffe9 19.5px,#32ffcd 20.5px,#ffd400 21.5px,#ffd400 24.5px,#baff45 25.5px,#baff45 29.5px,#81ff7e 30.5px,#7aff85 34.5px,#5fffa0 35.5px,#4affb5 41.5px,#31ffce 47.5px,#00faff 70.5px,#00bfff 92.5px,#00c9ff 93.5px,#00e5ff 94.5px,#00e1ff 95.5px,#00a8ff 97.5px,#00a9ff 177.5px,#00dfff 188.5px,#00e3ff 190.5px)"></i><i style="left:22px;width:2px;background:linear-gradient(#ffe900 0px,#ffed00 6.5px,#fff600 8.5px,#fff600 11.5px,#ffcb00 13.5px,#ffcb00 15.5px,#fff600 16.5px,#86ff79 17.5px,#86ff79 19.5px,#97ff68 20.5px,#ffd400 21.5px,#ffd400 24.5px,#baff45 25.5px,#baff45 29.5px,#81ff7e 30.5px,#7aff85 34.5px,#5fffa0 35.5px,#4affb5 41.5px,#31ffce 47.5px,#00faff 70.5px,#00bfff 92.5px,#00c9ff 93.5px,#00e5ff 94.5px,#00e1ff 95.5px,#00a8ff 97.5px,#00a9ff 177.5px,#00dfff 188.5px,#00e3ff 190.5px)"></i><i style="left:24px;width:1px;background:linear-gradient(#ffe900 0px,#ffe900 5.5px,#f5ff0a 6.5px,#98ff67 7.5px,#98ff67 11.5px,#ddff22 12.5px,#ffcb00 13.5px,#ffcb00 15.5px,#fff600 16.5px,#86ff79 17.5px,#86ff79 19.5px,#97ff68 20.5px,#ffd400 21.5px,#ffd400 24.5px,#baff45 25.5px,#baff45 29.5px,#81ff7e 30.5px,#7aff85 34.5px,#5fffa0 35.5px,#4affb5 41.5px,#31ffce 47.5px,#00faff 70.5px,#00bfff 92.5px,#00c9ff 93.5px,#00e5ff 94.5px,#00e1ff 95.5px,#00a8ff 97.5px,#00a9ff 177.5px,#00dfff 188.5px,#00e3ff 190.5px)"></i><i style="left:25px;width:2px;background:linear-gradient(#ffe900 0px,#ffe900 5.5px,#f5ff0a 6.5px,#98ff67 7.5px,#98ff67 11.5px,#ddff22 12.5px,#ffcb00 13.5px,#ffcb00 15.5px,#ffd800 16.5px,#ffff00 17.5px,#fffb00 20.5px,#ffd400 21.5px,#ffd400 24.5px,#baff45 25.5px,#baff45 29.5px,#81ff7e 30.5px,#7aff85 34.5px,#5fffa0 35.5px,#4affb5 41.5px,#31ffce 47.5px,#00faff 70.5px,#00bfff 92.5px,#00c9ff 93.5px,#00e5ff 94.5px,#00e1ff 95.5px,#00a8ff 97.5px,#00a9ff 177.5px,#00dfff 188.5px,#00e3ff 190.5px)"></i><i style="left:27px;width:1px;background:linear-gradient(#ffe900 0px,#ffe900 5.5px,#d7ff28 6.5px,#1fffe0 7.5px,#1fffe0 11.5px,#9bff64 12.5px,#ffcb00 13.5px,#ffcb00 15.5px,#ffd800 16.5px,#ffff00 17.5px,#fffb00 20.5px,#ffd400 21.5px,#ffd400 24.5px,#baff45 25.5px,#baff45 29.5px,#81ff7e 30.5px,#7aff85 34.5px,#5fffa0 35.5px,#4affb5 41.5px,#31ffce 47.5px,#00faff 70.5px,#00bfff 92.5px,#00c9ff 93.5px,#00e5ff 94.5px,#00e1ff 95.5px,#00a8ff 97.5px,#00a9ff 177.5px,#00dfff 188.5px,#00e3ff 190.5px)"></i><i style="left:28px;width:3px;background:linear-gradient(#ffe900 0px,#ffe900 5.5px,#d7ff28 6.5px,#1fffe0 7.5px,#1fffe0 11.5px,#9bff64 12.5px,#ffcb00 13.5px,#ffc700 16.5px,#ffba00 17.5px,#ffbc00 20.5px,#ffd400 21.5px,#ffd400 24.5px,#baff45 25.5px,#baff45 29.5px,#81ff7e 30.5px,#7aff85 34.5px,#5fffa0 35.5px,#4affb5 41.5px,#31ffce 47.5px,#00faff 70.5px,#00bfff 92.5px,#00c9ff 93.5px,#00e5ff 94.5px,#00e1ff 95.5px,#00a8ff 97.5px,#00a9ff 177.5px,#00dfff 188.5px,#00e3ff 190.5px)"></i><i style="left:31px;width:1px;background:linear-gradient(#ffe900 0px,#ffe900 5.5px,#b5ff4a 6.5px,#0089ff 7.5px,#0089ff 11.5px,#4fffb0 12.5px,#ffcb00 13.5px,#ffcb00 15.5px,#ffaf00 16.5px,#ff5a00 17.5px,#ff5a00 19.5px,#ff6600 20.5px,#ffd400 21.5px,#ffd400 24.5px,#baff45 25.5px,#baff45 29.5px,#81ff7e 30.5px,#7aff85 34.5px,#5fffa0 35.5px,#4affb5 41.5px,#31ffce 47.5px,#00faff 70.5px,#00bfff 92.5px,#00c9ff 93.5px,#00e5ff 94.5px,#00e1ff 95.5px,#00a8ff 97.5px,#00a9ff 177.5px,#00dfff 188.5px,#00e3ff 190.5px)"></i><i style="left:32px;width:2px;background:linear-gradient(#ffe900 0px,#ffe900 5.5px,#aaff55 6.5px,#005aff 7.5px,#005aff 11.5px,#38ffc7 12.5px,#ffcb00 13.5px,#ffcb00 15.5px,#ffaf00 16.5px,#ff5a00 17.5px,#ff5a00 19.5px,#ff6600 20.5px,#ffd400 21.5px,#ffd400 24.5px,#baff45 25.5px,#baff45 29.5px,#81ff7e 30.5px,#7aff85 34.5px,#5fffa0 35.5px,#4affb5 41.5px,#31ffce 47.5px,#00faff 70.5px,#00bfff 92.5px,#00c9ff 93.5px,#00e5ff 94.5px,#00e1ff 95.5px,#00a8ff 97.5px,#00a9ff 177.5px,#00dfff 188.5px,#00e3ff 190.5px)"></i><i style="left:34px;width:1px;background:linear-gradient(#ffe900 0px,#ffe900 5.5px,#ffc300 6.5px,#ff5100 7.5px,#ff5100 11.5px,#ff8800 12.5px,#ffcb00 13.5px,#ffcb00 15.5px,#ffaf00 16.5px,#ff5a00 17.5px,#ff5a00 19.5px,#ff6600 20.5px,#ffd400 21.5px,#ffd400 24.5px,#a0ff5f 25.5px,#a0ff5f 29.5px,#67ff98 30.5px,#61ff9e 34.5px,#46ffb9 35.5px,#32ffcd 41.5px,#1affe5 47.5px,#00fbff 63.5px,#00bbff 92.5px,#00c5ff 93.5px,#00e3ff 94.5px,#00dfff 95.5px,#00a8ff 97.5px,#00a8ff 177.5px,#00d8ff 189.5px,#00d8ff 190.5px)"></i><i style="left:35px;width:9px;background:linear-gradient(#ffe900 0px,#ffe900 5.5px,#ffc300 6.5px,#ff5100 7.5px,#ff5100 11.5px,#ff8000 12.5px,#ffba00 13.5px,#ffba00 15.5px,#ffa200 16.5px,#ff5a00 17.5px,#ff5a00 19.5px,#ff6600 20.5px,#ffd400 21.5px,#ffd400 24.5px,#a0ff5f 25.5px,#a0ff5f 29.5px,#67ff98 30.5px,#61ff9e 34.5px,#46ffb9 35.5px,#32ffcd 41.5px,#1affe5 47.5px,#00fbff 63.5px,#00bbff 92.5px,#00c5ff 93.5px,#00e3ff 94.5px,#00dfff 95.5px,#00a8ff 97.5px,#00a8ff 177.5px,#00d8ff 189.5px,#00d8ff 190.5px)"></i><i style="left:44px;width:3px;background:linear-gradient(#ffe900 0px,#ffe900 5.5px,#ffc300 6.5px,#ff5100 7.5px,#ff5100 11.5px,#ff8000 12.5px,#ffba00 13.5px,#ffba00 15.5px,#ffa200 16.5px,#ff5a00 17.5px,#ff5a00 19.5px,#ff6600 20.5px,#ffd400 21.5px,#ffd400 24.5px,#93ff6c 25.5px,#93ff6c 29.5px,#5bffa4 30.5px,#54ffab 34.5px,#39ffc6 35.5px,#26ffd9 41.5px,#10ffef 46.5px,#00faff 59.5px,#00b9ff 92.5px,#00c3ff 93.5px,#00e1ff 94.5px,#00deff 95.5px,#00a8ff 97.5px,#00a8ff 177.5px,#00d3ff 189.5px,#00d3ff 190.5px)"></i><i style="left:47px;width:2px;background:linear-gradient(#ffe900 0px,#ffe900 5.5px,#ffc300 6.5px,#ff5100 7.5px,#ff5100 11.5px,#ff8000 12.5px,#ffba00 13.5px,#ffba00 15.5px,#ffa200 16.5px,#ff5a00 17.5px,#ff5a00 19.5px,#ff6600 20.5px,#ffd400 21.5px,#ffd400 24.5px,#93ff6c 25.5px,#93ff6c 29.5px,#5bffa4 30.5px,#55ffaa 34.5px,#3affc5 35.5px,#27ffd8 41.5px,#12ffed 46.5px,#00f9ff 63.5px,#00c8ff 92.5px,#00d4ff 93.5px,#00f2ff 94.5px,#00efff 95.5px,#00baff 97.5px,#00bbff 177.5px,#00deff 189.5px,#00deff 190.5px)"></i><i style="left:49px;width:5px;background:linear-gradient(#ffe900 0px,#ffe900 5.5px,#ffc300 6.5px,#ff5100 7.5px,#ff5100 11.5px,#ff9c00 12.5px,#fff600 13.5px,#fff600 15.5px,#ffcf00 16.5px,#ff5a00 17.5px,#ff5a00 19.5px,#ff6600 20.5px,#ffd400 21.5px,#ffd400 24.5px,#93ff6c 25.5px,#93ff6c 29.5px,#5bffa4 30.5px,#56ffa9 34.5px,#3bffc4 35.5px,#2affd5 41.5px,#17ffe8 46.5px,#00faff 91.5px,#06fff9 93.5px,#23ffdc 94.5px,#22ffdd 95.5px,#0bfff4 96.5px,#00f2ff 97.5px,#00f5ff 179.5px,#03fffc 190.5px)"></i><i style="left:54px;width:1px;background:linear-gradient(#ffe900 0px,#ffe900 5.5px,#ffc300 6.5px,#ff5100 7.5px,#ff5100 11.5px,#ff9c00 12.5px,#fff600 13.5px,#fff600 15.5px,#9aff65 16.5px,#003eff 17.5px,#003eff 19.5px,#0072ff 20.5px,#ffd400 21.5px,#ffd400 24.5px,#e5ff1a 25.5px,#e5ff1a 29.5px,#aeff51 30.5px,#abff54 34.5px,#91ff6e 35.5px,#83ff7c 41.5px,#73ff8c 45.5px,#aeff51 92.5px,#bdff42 93.5px,#ddff22 94.5px,#e0ff1f 95.5px,#b9ff46 97.5px,#b6ff49 178.5px,#9dff62 190.5px)"></i><i style="left:55px;width:1px;background:linear-gradient(#ffe900 0px,#ffe900 2.5px,#ffdc00 3.5px,#ffdc00 5.5px,#ffba00 6.5px,#ff5100 7.5px,#ff5100 11.5px,#ff9c00 12.5px,#fff600 13.5px,#fff600 15.5px,#9aff65 16.5px,#003eff 17.5px,#003eff 19.5px,#0075ff 20.5px,#ffba00 21.5px,#ffba00 24.5px,#e5ff1a 25.5px,#e5ff1a 29.5px,#aeff51 30.5px,#acff53 34.5px,#92ff6d 35.5px,#85ff7a 41.5px,#76ff89 45.5px,#cbff34 92.5px,#dbff24 93.5px,#fcff03 94.5px,#fffe00 95.5px,#dbff24 97.5px,#dbff24 177.5px,#b2ff4d 189.5px,#b2ff4d 190.5px)"></i><i style="left:56px;width:1px;background:linear-gradient(#ffe900 0px,#ffe900 2.5px,#ffdc00 3.5px,#ffdc00 5.5px,#ffba00 6.5px,#ff5100 7.5px,#ff5100 11.5px,#ff9c00 12.5px,#fff600 13.5px,#fff600 15.5px,#c5ff3a 16.5px,#00fbff 17.5px,#00fbff 19.5px,#1dffe2 20.5px,#ffba00 21.5px,#ffba00 24.5px,#ffff00 25.5px,#e9ff16 81.5px,#e2ff1d 92.5px,#eeff11 93.5px,#fff300 94.5px,#fff400 95.5px,#f4ff0b 96.5px,#ddff22 97.5px,#e1ff1e 180.5px,#eaff15 190.5px)"></i><i style="left:57px;width:1px;background:linear-gradient(#ffe900 0px,#ffe900 2.5px,#ffdc00 3.5px,#ffdc00 5.5px,#ffba00 6.5px,#ff5100 7.5px,#ff5100 11.5px,#ff9c00 12.5px,#fff600 13.5px,#fff600 15.5px,#c5ff3a 16.5px,#00fbff 17.5px,#00fbff 19.5px,#1dffe2 20.5px,#ffba00 21.5px,#ffba00 24.5px,#ffff00 25.5px,#ecff13 48.5px,#84ff7b 92.5px,#8cff73 93.5px,#a6ff59 94.5px,#a2ff5d 95.5px,#6fff90 97.5px,#6fff90 177.5px,#a1ff5e 188.5px,#a4ff5b 190.5px)"></i><i style="left:58px;width:1px;background:linear-gradient(#ffe900 0px,#ffe900 2.5px,#ffdc00 3.5px,#ffdc00 5.5px,#ffba00 6.5px,#ff5100 7.5px,#ff5100 11.5px,#ff9c00 12.5px,#fff600 13.5px,#fff600 15.5px,#c5ff3a 16.5px,#00fbff 17.5px,#00fbff 19.5px,#1dffe2 20.5px,#ffba00 21.5px,#ffba00 24.5px,#eeff11 25.5px,#eeff11 29.5px,#d7ff28 30.5px,#d0ff2f 34.5px,#b5ff4a 35.5px,#a0ff5f 41.5px,#87ff78 47.5px,#1cffe3 92.5px,#25ffda 93.5px,#3fffc0 94.5px,#3bffc4 95.5px,#07fff8 97.5px,#08fff7 177.5px,#39ffc6 188.5px,#3dffc2 190.5px)"></i><i style="left:59px;width:1px;background:linear-gradient(#ffff00 0px,#ffff00 5.5px,#ffd400 6.5px,#ff5100 7.5px,#ff5100 11.5px,#bbff44 12.5px,#0089ff 13.5px,#0089ff 15.5px,#0cfff3 16.5px,#ff8e00 17.5px,#ff9500 20.5px,#ffd400 21.5px,#ffd400 24.5px,#eeff11 25.5px,#eeff11 29.5px,#d7ff28 30.5px,#d0ff2f 34.5px,#b5ff4a 35.5px,#a0ff5f 41.5px,#87ff78 47.5px,#1cffe3 92.5px,#25ffda 93.5px,#3fffc0 94.5px,#3bffc4 95.5px,#07fff8 97.5px,#08fff7 177.5px,#39ffc6 188.5px,#3dffc2 190.5px)"></i><i style="left:60px;width:2px;background:linear-gradient(#ffff00 0px,#ffff00 5.5px,#ffd400 6.5px,#ff5100 7.5px,#ff5100 11.5px,#ff6300 13.5px,#ff6300 15.5px,#ff6e00 16.5px,#ff8e00 17.5px,#ff9500 20.5px,#ffd400 21.5px,#ffd400 24.5px,#e5ff1a 25.5px,#e5ff1a 29.5px,#acff53 30.5px,#a6ff59 34.5px,#8bff74 35.5px,#78ff87 41.5px,#62ff9d 46.5px,#15ffea 92.5px,#1fffe0 93.5px,#3bffc4 94.5px,#38ffc7 95.5px,#07fff8 97.5px,#07fff8 177.5px,#2cffd3 189.5px,#2cffd3 190.5px)"></i><i style="left:62px;width:1px;background:linear-gradient(#ffff00 0px,#ffff00 5.5px,#ffd400 6.5px,#ff5100 7.5px,#ff5100 11.5px,#ff6300 13.5px,#ff6300 15.5px,#ff6e00 16.5px,#ff8e00 17.5px,#ff9500 20.5px,#ffd400 21.5px,#ffd400 24.5px,#e5ff1a 25.5px,#e5ff1a 29.5px,#adff52 30.5px,#a7ff58 34.5px,#8dff72 35.5px,#7aff85 41.5px,#66ff99 46.5px,#3affc5 92.5px,#45ffba 93.5px,#61ff9e 94.5px,#60ff9f 95.5px,#31ffce 97.5px,#33ffcc 178.5px,#47ffb8 190.5px)"></i><i style="left:63px;width:1px;background:linear-gradient(#ffff00 0px,#ffff00 5.5px,#ffd400 6.5px,#ff5100 7.5px,#ff5100 11.5px,#ff6300 13.5px,#ff6300 15.5px,#ff6e00 16.5px,#ff8e00 17.5px,#ff9500 20.5px,#ffd400 21.5px,#ffd400 24.5px,#e5ff1a 25.5px,#e5ff1a 29.5px,#acff53 30.5px,#a6ff59 34.5px,#8bff74 35.5px,#78ff87 41.5px,#62ff9d 46.5px,#15ffea 92.5px,#1fffe0 93.5px,#3bffc4 94.5px,#38ffc7 95.5px,#07fff8 97.5px,#07fff8 177.5px,#2cffd3 189.5px,#2cffd3 190.5px)"></i><i style="left:64px;width:2px;background:linear-gradient(#ffff00 0px,#ffff00 5.5px,#ffd800 6.5px,#ff6300 7.5px,#ff6300 15.5px,#ff6e00 16.5px,#ff8e00 17.5px,#ff9500 20.5px,#ffd400 21.5px,#ffd400 24.5px,#e5ff1a 25.5px,#e5ff1a 29.5px,#acff53 30.5px,#a6ff59 34.5px,#8bff74 35.5px,#78ff87 41.5px,#62ff9d 46.5px,#15ffea 92.5px,#1fffe0 93.5px,#3bffc4 94.5px,#38ffc7 95.5px,#07fff8 97.5px,#07fff8 177.5px,#2cffd3 189.5px,#2cffd3 190.5px)"></i><i style="left:66px;width:1px;background:linear-gradient(#ffff00 0px,#ffff00 5.5px,#ffd800 6.5px,#ff6300 7.5px,#ff6300 15.5px,#ff6e00 16.5px,#ff8e00 17.5px,#ff9500 20.5px,#ffd400 21.5px,#ffd400 24.5px,#baff45 25.5px,#baff45 29.5px,#82ff7d 30.5px,#7eff81 34.5px,#63ff9c 35.5px,#53ffac 41.5px,#41ffbe 46.5px,#41ffbe 92.5px,#4effb1 93.5px,#6dff92 94.5px,#6dff92 95.5px,#41ffbe 97.5px,#41ffbe 190.5px)"></i><i style="left:67px;width:1px;background:linear-gradient(#ffff00 0px,#ffff00 5.5px,#ffd800 6.5px,#ff6300 7.5px,#ff6300 15.5px,#ff6e00 16.5px,#ff8e00 17.5px,#ff9500 20.5px,#ffd400 21.5px,#ffd400 24.5px,#baff45 25.5px,#baff45 29.5px,#82ff7d 30.5px,#7cff83 34.5px,#61ff9e 35.5px,#4fffb0 41.5px,#3bffc4 46.5px,#0ffff0 92.5px,#1affe5 93.5px,#36ffc9 94.5px,#35ffca 95.5px,#06fff9 97.5px,#08fff7 178.5px,#1cffe3 190.5px)"></i><i style="left:68px;width:3px;background:linear-gradient(#ffff00 0px,#ffff00 5.5px,#ffd800 6.5px,#ff6300 7.5px,#ff6300 15.5px,#ff6e00 16.5px,#ff8e00 17.5px,#ff9500 20.5px,#ffd400 21.5px,#ffd400 24.5px,#d4ff2b 25.5px,#d4ff2b 29.5px,#9bff64 30.5px,#95ff6a 34.5px,#7aff85 35.5px,#68ff97 41.5px,#53ffac 46.5px,#13ffec 92.5px,#1dffe2 93.5px,#39ffc6 94.5px,#36ffc9 95.5px,#06fff9 97.5px,#0afff5 178.5px,#26ffd9 190.5px)"></i><i style="left:71px;width:1px;background:linear-gradient(#ffff00 0px,#ffff00 5.5px,#ffd800 6.5px,#ff6300 7.5px,#ff6300 15.5px,#ff6e00 16.5px,#ff8e00 17.5px,#ff9500 20.5px,#ffd400 21.5px,#ffd400 24.5px,#d4ff2b 25.5px,#d4ff2b 29.5px,#9cff63 30.5px,#97ff68 34.5px,#7dff82 35.5px,#6cff93 41.5px,#5affa5 46.5px,#54ffab 92.5px,#61ff9e 93.5px,#7fff80 94.5px,#7eff81 95.5px,#53ffac 97.5px,#56ffa9 190.5px)"></i><i style="left:72px;width:1px;background:linear-gradient(#ffff00 0px,#ffff00 5.5px,#ffd800 6.5px,#ff6300 7.5px,#ff6300 15.5px,#ff6e00 16.5px,#ff8e00 17.5px,#ff9500 20.5px,#ffd400 21.5px,#ffd400 24.5px,#a0ff5f 25.5px,#a0ff5f 29.5px,#69ff96 30.5px,#65ff9a 34.5px,#4bffb4 35.5px,#3cffc3 41.5px,#2cffd3 46.5px,#4cffb3 92.5px,#5affa5 93.5px,#79ff86 94.5px,#7bff84 95.5px,#52ffad 97.5px,#4fffb0 179.5px,#42ffbd 190.5px)"></i><i style="left:73px;width:2px;background:linear-gradient(#ffff00 0px,#ffff00 5.5px,#ffd800 6.5px,#ff6300 7.5px,#ff6300 15.5px,#ff6e00 16.5px,#ff8e00 17.5px,#ff9500 20.5px,#ffd400 21.5px,#ffd400 24.5px,#a0ff5f 25.5px,#a0ff5f 29.5px,#68ff97 30.5px,#63ff9c 34.5px,#49ffb6 35.5px,#38ffc7 41.5px,#25ffda 46.5px,#12ffed 92.5px,#1effe1 93.5px,#3bffc4 94.5px,#3bffc4 95.5px,#0efff1 97.5px,#13ffec 182.5px,#18ffe7 190.5px)"></i><i style="left:75px;width:1px;background:linear-gradient(#ffff00 0px,#ffff00 5.5px,#ffd800 6.5px,#ff6300 7.5px,#ff6300 15.5px,#ff6e00 16.5px,#ff8e00 17.5px,#ff9500 20.5px,#ffd400 21.5px,#ffd400 24.5px,#baff45 25.5px,#baff45 29.5px,#82ff7d 30.5px,#7cff83 34.5px,#62ff9d 35.5px,#50ffaf 41.5px,#3cffc3 46.5px,#16ffe9 92.5px,#21ffde 93.5px,#3effc1 94.5px,#3dffc2 95.5px,#0ffff0 97.5px,#12ffed 179.5px,#21ffde 190.5px)"></i><i style="left:76px;width:1px;background:linear-gradient(#ffff00 0px,#ffff00 5.5px,#ffd800 6.5px,#ff6300 7.5px,#ff6300 15.5px,#ff6e00 16.5px,#ff8e00 17.5px,#ff9500 20.5px,#ffd400 21.5px,#ffd400 24.5px,#baff45 25.5px,#baff45 29.5px,#82ff7d 30.5px,#7eff81 34.5px,#63ff9c 35.5px,#53ffac 41.5px,#41ffbe 46.5px,#41ffbe 92.5px,#4effb1 93.5px,#6dff92 94.5px,#6dff92 95.5px,#41ffbe 97.5px,#41ffbe 190.5px)"></i><i style="left:77px;width:1px;background:linear-gradient(#ffff00 0px,#ffff00 5.5px,#ffd800 6.5px,#ff6300 7.5px,#ff6300 15.5px,#ff6e00 16.5px,#ff8e00 17.5px,#ff9500 20.5px,#ffd400 21.5px,#ffd400 24.5px,#baff45 25.5px,#baff45 29.5px,#82ff7d 30.5px,#7cff83 34.5px,#61ff9e 35.5px,#4fffb0 41.5px,#3affc5 46.5px,#07fff8 92.5px,#12ffed 93.5px,#2fffd0 94.5px,#2dffd2 95.5px,#00fcff 97.5px,#05fffa 180.5px,#17ffe8 190.5px)"></i><i style="left:78px;width:1px;background:linear-gradient(#ffff00 0px,#ffff00 5.5px,#ffd800 6.5px,#ff6300 7.5px,#ff6300 15.5px,#ff6e00 16.5px,#ff8e00 17.5px,#ff9500 20.5px,#ffd400 21.5px,#ffd400 24.5px,#75ff8a 25.5px,#75ff8a 29.5px,#3dffc2 30.5px,#39ffc6 34.5px,#1effe1 35.5px,#0efff1 41.5px,#00fbff 45.5px,#00fbff 92.5px,#09fff6 93.5px,#28ffd7 94.5px,#28ffd7 95.5px,#00fbff 97.5px,#00fbff 190.5px)"></i><i style="left:79px;width:2px;background:linear-gradient(#ffff00 0px,#ffff00 5.5px,#ffe100 6.5px,#ff8600 7.5px,#ff8600 11.5px,#ff9700 13.5px,#ff9700 15.5px,#ffaf00 16.5px,#fff600 17.5px,#fff300 20.5px,#ffd400 21.5px,#ffd400 24.5px,#75ff8a 25.5px,#75ff8a 29.5px,#3dffc2 30.5px,#39ffc6 34.5px,#1effe1 35.5px,#0efff1 41.5px,#00fbff 45.5px,#00fbff 92.5px,#09fff6 93.5px,#28ffd7 94.5px,#28ffd7 95.5px,#00fbff 97.5px,#00fbff 190.5px)"></i><i style="left:81px;width:3px;background:linear-gradient(#cbff34 0px,#ceff31 2.5px,#ffff00 3.5px,#ffff00 5.5px,#ffe100 6.5px,#ff8600 7.5px,#ff8600 11.5px,#ff9700 13.5px,#ff9700 15.5px,#ffaf00 16.5px,#fff600 17.5px,#fff300 20.5px,#ffd400 21.5px,#ffd400 24.5px,#8fff70 25.5px,#8fff70 29.5px,#57ffa8 30.5px,#52ffad 34.5px,#37ffc8 35.5px,#25ffda 41.5px,#12ffed 46.5px,#00f9ff 81.5px,#00f0ff 92.5px,#00fdff 93.5px,#1bffe4 94.5px,#19ffe6 95.5px,#03fffc 96.5px,#00e9ff 97.5px,#00ecff 179.5px,#00faff 190.5px)"></i><i style="left:84px;width:1px;background:linear-gradient(#cbff34 0px,#ceff31 2.5px,#ffff00 3.5px,#ffff00 5.5px,#ffe100 6.5px,#ff8600 7.5px,#ff8600 11.5px,#ffb400 12.5px,#ffee00 13.5px,#fff600 19.5px,#ffee00 20.5px,#ffa000 21.5px,#ffa000 24.5px,#64ff9b 25.5px,#64ff9b 29.5px,#2cffd3 30.5px,#27ffd8 34.5px,#0cfff3 35.5px,#00faff 41.5px,#00e5ff 46.5px,#00d0ff 92.5px,#00deff 93.5px,#00feff 94.5px,#00fdff 95.5px,#00ccff 97.5px,#00d0ff 181.5px,#00d7ff 190.5px)"></i><i style="left:85px;width:2px;background:linear-gradient(#cbff34 0px,#ceff31 2.5px,#ffff00 3.5px,#ffff00 5.5px,#ffe100 6.5px,#ff8600 7.5px,#ff8600 11.5px,#ffb400 12.5px,#ffee00 13.5px,#ffee00 15.5px,#e7ff18 16.5px,#6dff92 17.5px,#6dff92 19.5px,#85ff7a 20.5px,#ffa000 21.5px,#ffa000 24.5px,#64ff9b 25.5px,#64ff9b 29.5px,#2cffd3 30.5px,#27ffd8 34.5px,#0cfff3 35.5px,#00faff 41.5px,#00e5ff 46.5px,#00d0ff 92.5px,#00deff 93.5px,#00feff 94.5px,#00fdff 95.5px,#00ccff 97.5px,#00d0ff 181.5px,#00d7ff 190.5px)"></i><i style="left:87px;width:1px;background:linear-gradient(#cbff34 0px,#ceff31 2.5px,#ffff00 3.5px,#ffff00 5.5px,#ffe100 6.5px,#ff8600 7.5px,#ff8600 11.5px,#ffb400 12.5px,#ffee00 13.5px,#ffee00 15.5px,#e7ff18 16.5px,#6dff92 17.5px,#6dff92 19.5px,#85ff7a 20.5px,#ffa000 21.5px,#ffa000 24.5px,#41ffbe 25.5px,#41ffbe 29.5px,#09fff6 30.5px,#05fffa 34.5px,#00e7ff 35.5px,#00dbff 40.5px,#00c2ff 45.5px,#00baff 92.5px,#00c8ff 93.5px,#00e9ff 94.5px,#00e9ff 95.5px,#00b9ff 97.5px,#00bcff 190.5px)"></i><i style="left:88px;width:1px;background:linear-gradient(#cbff34 0px,#ceff31 2.5px,#ffff00 3.5px,#ffff00 5.5px,#ffe100 6.5px,#ff8600 7.5px,#ff8600 11.5px,#ffb400 12.5px,#ffee00 13.5px,#ffee00 15.5px,#b1ff4e 16.5px,#0089ff 17.5px,#0089ff 19.5px,#00bcff 20.5px,#ffa000 21.5px,#ffa000 24.5px,#41ffbe 25.5px,#41ffbe 29.5px,#09fff6 30.5px,#05fffa 34.5px,#00e7ff 35.5px,#00dbff 40.5px,#00c2ff 45.5px,#00baff 92.5px,#00c8ff 93.5px,#00e9ff 94.5px,#00e9ff 95.5px,#00b9ff 97.5px,#00bcff 190.5px)"></i><i style="left:89px;width:1px;background:linear-gradient(#a0ff5f 0px,#a5ff5a 2.5px,#ffff00 3.5px,#ffff00 5.5px,#ffe100 6.5px,#ff8600 7.5px,#ff8600 11.5px,#ecff13 12.5px,#41ffbe 13.5px,#41ffbe 15.5px,#16ffe9 16.5px,#0089ff 17.5px,#0089ff 19.5px,#00bcff 20.5px,#ffa000 21.5px,#ffa000 24.5px,#41ffbe 25.5px,#41ffbe 29.5px,#09fff6 30.5px,#05fffa 34.5px,#00e7ff 35.5px,#00dbff 40.5px,#00c2ff 45.5px,#00baff 92.5px,#00c8ff 93.5px,#00e9ff 94.5px,#00e9ff 95.5px,#00b9ff 97.5px,#00bcff 190.5px)"></i><i style="left:90px;width:1px;background:linear-gradient(#a0ff5f 0px,#a5ff5a 2.5px,#ffff00 3.5px,#ffff00 5.5px,#ffe100 6.5px,#ff8600 7.5px,#ff8600 11.5px,#ecff13 12.5px,#41ffbe 13.5px,#41ffbe 15.5px,#9eff61 16.5px,#ff4900 17.5px,#ff4900 19.5px,#ff5100 20.5px,#ffa000 21.5px,#ffa000 24.5px,#41ffbe 25.5px,#41ffbe 29.5px,#09fff6 30.5px,#05fffa 34.5px,#00e7ff 35.5px,#00dbff 40.5px,#00c2ff 45.5px,#00baff 92.5px,#00c8ff 93.5px,#00e9ff 94.5px,#00e9ff 95.5px,#00b9ff 97.5px,#00bcff 190.5px)"></i><i style="left:91px;width:2px;background:linear-gradient(#a0ff5f 0px,#a5ff5a 2.5px,#ffff00 3.5px,#ffff00 5.5px,#ffe100 6.5px,#ff8600 7.5px,#ff8600 11.5px,#97ff68 12.5px,#0076ff 13.5px,#0076ff 15.5px,#10ffef 16.5px,#ff4900 17.5px,#ff4900 19.5px,#ff5100 20.5px,#ffa000 21.5px,#ffa000 24.5px,#75ff8a 25.5px,#75ff8a 29.5px,#3dffc2 30.5px,#38ffc7 34.5px,#1effe1 35.5px,#0dfff2 41.5px,#00faff 45.5px,#00ebff 92.5px,#00f9ff 93.5px,#18ffe7 94.5px,#18ffe7 95.5px,#02fffd 96.5px,#00e9ff 97.5px,#00eeff 185.5px,#00efff 190.5px)"></i><i style="left:93px;width:1px;background:linear-gradient(#a0ff5f 0px,#a5ff5a 2.5px,#ffff00 3.5px,#ffff00 5.5px,#ffe100 6.5px,#ff8600 7.5px,#ff8600 11.5px,#ff6300 13.5px,#ff5c00 16.5px,#ff4900 17.5px,#ff4900 19.5px,#ff5100 20.5px,#ffa000 21.5px,#ffa000 24.5px,#75ff8a 25.5px,#75ff8a 29.5px,#3dffc2 30.5px,#38ffc7 34.5px,#1effe1 35.5px,#0dfff2 41.5px,#00faff 45.5px,#00ebff 92.5px,#00f9ff 93.5px,#18ffe7 94.5px,#18ffe7 95.5px,#02fffd 96.5px,#00e9ff 97.5px,#00eeff 185.5px,#00efff 190.5px)"></i><i style="left:94px;width:4px;background:linear-gradient(#a0ff5f 0px,#a5ff5a 2.5px,#ffff00 3.5px,#ffff00 5.5px,#ffe100 6.5px,#ff8600 7.5px,#ff8600 11.5px,#ff6300 13.5px,#ff5c00 16.5px,#ff4900 17.5px,#ff4900 19.5px,#ff5100 20.5px,#ffa000 21.5px,#ffa000 24.5px,#86ff79 25.5px,#86ff79 29.5px,#4effb1 30.5px,#4affb5 34.5px,#2fffd0 35.5px,#1effe1 41.5px,#0cfff3 46.5px,#00feff 92.5px,#0cfff3 93.5px,#29ffd6 94.5px,#29ffd6 95.5px,#00fbff 97.5px,#03fffc 190.5px)"></i><i style="left:98px;width:1px;background:linear-gradient(#a0ff5f 0px,#a5ff5a 2.5px,#ffff00 3.5px,#ffff00 5.5px,#ffe100 6.5px,#ff8600 7.5px,#ff8600 11.5px,#ff6300 13.5px,#ff5c00 16.5px,#ff4900 17.5px,#ff4900 19.5px,#ff5100 20.5px,#ffa000 21.5px,#ffa000 24.5px,#baff45 25.5px,#baff45 29.5px,#82ff7d 30.5px,#7dff82 34.5px,#62ff9d 35.5px,#51ffae 41.5px,#3effc1 46.5px,#24ffdb 92.5px,#30ffcf 93.5px,#4effb1 94.5px,#4dffb2 95.5px,#20ffdf 97.5px,#23ffdc 180.5px,#2cffd3 190.5px)"></i><i style="left:99px;width:1px;background:linear-gradient(#a0ff5f 0px,#a5ff5a 2.5px,#ffff00 3.5px,#ffff00 5.5px,#fff000 6.5px,#ffc200 7.5px,#ffc200 11.5px,#ff6300 13.5px,#ff5c00 16.5px,#ff4900 17.5px,#ff4900 19.5px,#ff5100 20.5px,#ffa000 21.5px,#ffa000 24.5px,#baff45 25.5px,#baff45 29.5px,#82ff7d 30.5px,#7dff82 34.5px,#62ff9d 35.5px,#51ffae 41.5px,#3effc1 46.5px,#24ffdb 92.5px,#30ffcf 93.5px,#4effb1 94.5px,#4dffb2 95.5px,#20ffdf 97.5px,#23ffdc 180.5px,#2cffd3 190.5px)"></i><i style="left:100px;width:1px;background:linear-gradient(#a0ff5f 0px,#a5ff5a 2.5px,#ffff00 3.5px,#ffff00 5.5px,#fff000 6.5px,#ffc200 7.5px,#ffc200 11.5px,#ff6300 13.5px,#ff5c00 16.5px,#ff4900 17.5px,#ff4900 19.5px,#ff5100 20.5px,#ffa000 21.5px,#ffa000 24.5px,#eeff11 25.5px,#eeff11 29.5px,#d8ff27 30.5px,#d3ff2c 34.5px,#b8ff47 35.5px,#a7ff58 41.5px,#94ff6b 46.5px,#7bff84 92.5px,#87ff78 93.5px,#a4ff5b 94.5px,#a3ff5c 95.5px,#76ff89 97.5px,#79ff86 180.5px,#82ff7d 190.5px)"></i><i style="left:101px;width:2px;background:linear-gradient(#a0ff5f 0px,#a3ff5c 2.5px,#ddff22 3.5px,#ddff22 5.5px,#f4ff0b 6.5px,#ffc200 7.5px,#ffc200 11.5px,#ff6300 13.5px,#ff5c00 16.5px,#ff4900 17.5px,#ff4900 19.5px,#ff5100 20.5px,#ffa000 21.5px,#ffa000 24.5px,#eeff11 25.5px,#eeff11 29.5px,#d8ff27 30.5px,#d3ff2c 34.5px,#b8ff47 35.5px,#a7ff58 41.5px,#94ff6b 46.5px,#7bff84 92.5px,#87ff78 93.5px,#a4ff5b 94.5px,#a3ff5c 95.5px,#76ff89 97.5px,#79ff86 180.5px,#82ff7d 190.5px)"></i><i style="left:103px;width:3px;background:linear-gradient(#a0ff5f 0px,#a3ff5c 2.5px,#ddff22 3.5px,#ddff22 5.5px,#f4ff0b 6.5px,#ffc200 7.5px,#ffc200 11.5px,#ff6300 13.5px,#ff5c00 16.5px,#ff4900 17.5px,#ff4900 19.5px,#ff5100 20.5px,#ffa000 21.5px,#ffa000 24.5px,#86ff79 25.5px,#86ff79 29.5px,#4effb1 30.5px,#4affb5 34.5px,#2fffd0 35.5px,#1effe1 41.5px,#0cfff3 46.5px,#00feff 92.5px,#0cfff3 93.5px,#29ffd6 94.5px,#29ffd6 95.5px,#00fbff 97.5px,#03fffc 190.5px)"></i><i style="left:106px;width:4px;background:linear-gradient(#a0ff5f 0px,#a3ff5c 2.5px,#ddff22 3.5px,#ddff22 5.5px,#f4ff0b 6.5px,#ffc200 7.5px,#ffc200 11.5px,#ff6300 13.5px,#ff5c00 16.5px,#ff4900 17.5px,#ff4900 19.5px,#ff5100 20.5px,#ffa000 21.5px,#ffa000 24.5px,#53ffac 25.5px,#53ffac 29.5px,#1bffe4 30.5px,#16ffe9 34.5px,#00fbff 35.5px,#00eeff 40.5px,#00d5ff 45.5px,#00d5ff 92.5px,#00e4ff 93.5px,#05fffa 94.5px,#05fffa 95.5px,#00d5ff 97.5px,#00d5ff 190.5px)"></i><i style="left:110px;width:1px;background:linear-gradient(#a0ff5f 0px,#a3ff5c 2.5px,#ddff22 3.5px,#ddff22 5.5px,#f4ff0b 6.5px,#ffc200 7.5px,#ffc200 11.5px,#ff6300 13.5px,#ff5c00 16.5px,#ff4900 17.5px,#ff4900 19.5px,#ff5100 20.5px,#ffa000 21.5px,#ffa000 24.5px,#8fff70 25.5px,#8fff70 29.5px,#57ffa8 30.5px,#53ffac 34.5px,#38ffc7 35.5px,#28ffd7 41.5px,#16ffe9 46.5px,#16ffe9 92.5px,#23ffdc 93.5px,#41ffbe 94.5px,#41ffbe 95.5px,#16ffe9 97.5px,#16ffe9 190.5px)"></i><i style="left:111px;width:2px;background:linear-gradient(#a0ff5f 0px,#a5ff5a 2.5px,#ffff00 3.5px,#ffff00 5.5px,#fff000 6.5px,#ffc200 7.5px,#ffc200 11.5px,#ff6300 13.5px,#ff5c00 16.5px,#ff4900 17.5px,#ff4900 19.5px,#ff5100 20.5px,#ffa000 21.5px,#ffa000 24.5px,#8fff70 25.5px,#8fff70 29.5px,#57ffa8 30.5px,#53ffac 34.5px,#38ffc7 35.5px,#28ffd7 41.5px,#16ffe9 46.5px,#16ffe9 92.5px,#23ffdc 93.5px,#41ffbe 94.5px,#41ffbe 95.5px,#16ffe9 97.5px,#16ffe9 190.5px)"></i><i style="left:113px;width:1px;background:linear-gradient(#a0ff5f 0px,#a5ff5a 2.5px,#ffff00 3.5px,#ffff00 5.5px,#fff000 6.5px,#ffc200 7.5px,#ffc200 11.5px,#ff6300 13.5px,#ff5c00 16.5px,#ff4900 17.5px,#ff4900 19.5px,#ff5100 20.5px,#ffa000 21.5px,#ffa000 24.5px,#cbff34 25.5px,#cbff34 29.5px,#93ff6c 30.5px,#8fff70 34.5px,#75ff8a 35.5px,#65ff9a 41.5px,#54ffab 46.5px,#5affa5 92.5px,#67ff98 93.5px,#86ff79 94.5px,#86ff79 95.5px,#5bffa4 97.5px,#58ffa7 190.5px)"></i><i style="left:114px;width:2px;background:linear-gradient(#a0ff5f 0px,#a5ff5a 2.5px,#ffff00 3.5px,#ffff00 5.5px,#ffe700 6.5px,#ffa000 7.5px,#ffa000 11.5px,#ff6300 13.5px,#ff5c00 16.5px,#ff4900 17.5px,#ff4900 19.5px,#ff5100 20.5px,#ffa000 21.5px,#ffa000 24.5px,#cbff34 25.5px,#cbff34 29.5px,#93ff6c 30.5px,#8fff70 34.5px,#75ff8a 35.5px,#65ff9a 41.5px,#54ffab 46.5px,#5affa5 92.5px,#67ff98 93.5px,#86ff79 94.5px,#86ff79 95.5px,#5bffa4 97.5px,#58ffa7 190.5px)"></i><i style="left:116px;width:3px;background:linear-gradient(#a0ff5f 0px,#a5ff5a 2.5px,#ffff00 3.5px,#ffff00 5.5px,#ffe700 6.5px,#ffa000 7.5px,#ffa000 11.5px,#ff6300 13.5px,#ff5c00 16.5px,#ff4900 17.5px,#ff4900 19.5px,#ff5100 20.5px,#ffa000 21.5px,#ffa000 24.5px,#eeff11 25.5px,#e5ff1a 34.5px,#cbff34 35.5px,#bbff44 41.5px,#aaff55 46.5px,#b0ff4f 92.5px,#bdff42 93.5px,#dcff23 94.5px,#dcff23 95.5px,#b1ff4e 97.5px,#aeff51 190.5px)"></i><i style="left:119px;width:6px;background:linear-gradient(#ddff22 0px,#e0ff1f 2.5px,#ffdc00 3.5px,#ffdc00 5.5px,#ffcd00 6.5px,#ffa000 7.5px,#ffa000 11.5px,#ff6300 13.5px,#ff5c00 16.5px,#ff4900 17.5px,#ff4f00 20.5px,#ff8600 21.5px,#ff8600 24.5px,#efff10 25.5px,#f0ff0f 29.5px,#dfff20 30.5px,#deff21 34.5px,#d6ff29 36.5px,#cfff30 52.5px,#daff25 92.5px,#ecff13 93.5px,#ffe700 94.5px,#ffe600 95.5px,#faff05 96.5px,#dcff23 97.5px,#d7ff28 186.5px,#d6ff29 190.5px)"></i><i style="left:125px;width:1px;background:linear-gradient(#fff600 0px,#fff500 2.5px,#ffdc00 3.5px,#ffdc00 5.5px,#ffcd00 6.5px,#ffa000 7.5px,#ffa000 11.5px,#ff6300 13.5px,#ff5c00 16.5px,#ff4900 17.5px,#ff4f00 20.5px,#ff8600 21.5px,#ff8600 24.5px,#ff9500 25.5px,#ff9500 29.5px,#ffa600 30.5px,#ffa700 34.5px,#ffb000 36.5px,#ffba00 54.5px,#ffba00 92.5px,#ffa700 93.5px,#ff7d00 94.5px,#ff7d00 95.5px,#ffba00 97.5px,#ffba00 190.5px)"></i><i style="left:126px;width:3px;background:linear-gradient(#fff600 0px,#fff500 2.5px,#ffdc00 3.5px,#ffdc00 5.5px,#ffcd00 6.5px,#ffa000 7.5px,#ffa000 11.5px,#ff6300 13.5px,#ff5c00 16.5px,#ff4900 17.5px,#ff4f00 20.5px,#ff8600 21.5px,#ff8600 24.5px,#ffec00 25.5px,#ffec00 29.5px,#fffd00 30.5px,#fffe00 34.5px,#f7ff08 38.5px,#efff10 52.5px,#f5ff0a 92.5px,#fff700 93.5px,#ffcc00 94.5px,#ffcc00 95.5px,#f6ff09 97.5px,#f3ff0c 190.5px)"></i><i style="left:129px;width:3px;background:linear-gradient(#fff600 0px,#fff500 2.5px,#ffdc00 3.5px,#ffdc00 5.5px,#ffc400 6.5px,#ff7d00 7.5px,#ff7d00 11.5px,#ff6300 13.5px,#ff5c00 16.5px,#ff4900 17.5px,#ff4f00 20.5px,#ff8600 21.5px,#ff8600 24.5px,#ffec00 25.5px,#ffec00 29.5px,#fffd00 30.5px,#fffe00 34.5px,#f7ff08 38.5px,#efff10 52.5px,#f5ff0a 92.5px,#fff700 93.5px,#ffcc00 94.5px,#ffcc00 95.5px,#f6ff09 97.5px,#f3ff0c 190.5px)"></i><i style="left:132px;width:1px;background:linear-gradient(#fff600 0px,#fff500 2.5px,#ffdc00 3.5px,#ffdc00 5.5px,#ffc400 6.5px,#ff7d00 7.5px,#ff7d00 11.5px,#ff6300 13.5px,#ff5c00 16.5px,#ff4900 17.5px,#ff4f00 20.5px,#ff8600 21.5px,#ff8600 24.5px,#ff9500 25.5px,#ff9500 29.5px,#ffa600 30.5px,#ffa700 34.5px,#ffb000 36.5px,#ffba00 54.5px,#ffba00 92.5px,#ffa700 93.5px,#ff7d00 94.5px,#ff7d00 95.5px,#ffba00 97.5px,#ffba00 190.5px)"></i><i style="left:133px;width:3px;background:linear-gradient(#fff600 0px,#fff500 2.5px,#ffdc00 3.5px,#ffdc00 5.5px,#ffc400 6.5px,#ff7d00 7.5px,#ff7d00 11.5px,#ff6300 13.5px,#ff5c00 16.5px,#ff4900 17.5px,#ff4f00 20.5px,#ff8600 21.5px,#ff8600 24.5px,#ffec00 25.5px,#ffec00 29.5px,#fffd00 30.5px,#fffe00 34.5px,#f7ff08 38.5px,#efff10 52.5px,#f5ff0a 92.5px,#fff700 93.5px,#ffcc00 94.5px,#ffcc00 95.5px,#f6ff09 97.5px,#f3ff0c 190.5px)"></i><i style="left:136px;width:3px;background:linear-gradient(#fff600 0px,#fff500 2.5px,#ffdc00 3.5px,#ffdc00 5.5px,#ffc400 6.5px,#ff7d00 7.5px,#ff7d00 11.5px,#ff6300 13.5px,#ff5c00 16.5px,#ff4900 17.5px,#ff4f00 20.5px,#ff8600 21.5px,#ff8600 24.5px,#ffd200 25.5px,#ffd200 29.5px,#ffe300 30.5px,#ffe400 34.5px,#ffec00 36.5px,#fff500 53.5px,#ffef00 92.5px,#ffdd00 93.5px,#ffb200 94.5px,#ffb200 95.5px,#ffee00 97.5px,#fff100 190.5px)"></i><i style="left:139px;width:5px;background:linear-gradient(#ffa800 0px,#ffa700 2.5px,#ff9700 3.5px,#ff9000 6.5px,#ff7d00 7.5px,#ff7d00 11.5px,#ff6300 13.5px,#ff5c00 16.5px,#ff4900 17.5px,#ff4f00 20.5px,#ff8600 21.5px,#ff8600 24.5px,#ffa600 25.5px,#ffa600 29.5px,#ffb700 30.5px,#ffb800 34.5px,#ffc000 36.5px,#ffc800 52.5px,#ffbc00 92.5px,#ffb300 93.5px,#ff9d00 94.5px,#ff9c00 95.5px,#ffba00 97.5px,#ffbf00 186.5px,#ffc000 190.5px)"></i><i style="left:144px;width:5px;background:linear-gradient(#ffa800 0px,#ffa700 2.5px,#ff9700 3.5px,#ff9000 6.5px,#ff7d00 7.5px,#ff7d00 11.5px,#ff6300 13.5px,#ff5c00 16.5px,#ff4900 17.5px,#ff4f00 20.5px,#ff8600 21.5px,#ff8600 24.5px,#ff7b00 25.5px,#ff7b00 29.5px,#ff8c00 30.5px,#ff8d00 34.5px,#ff9500 36.5px,#ff9e00 53.5px,#ff9800 92.5px,#ff8f00 93.5px,#ff7900 94.5px,#ff7900 95.5px,#ff9700 97.5px,#ff9a00 190.5px)"></i><i style="left:149px;width:3px;background:linear-gradient(#ffa800 0px,#ffa700 2.5px,#ff9700 3.5px,#ff9000 6.5px,#ff7d00 7.5px,#ff7d00 11.5px,#ff6300 13.5px,#ff5c00 16.5px,#ff4900 17.5px,#ff4f00 20.5px,#ff8600 21.5px,#ff8600 24.5px,#ffa600 25.5px,#ffa600 29.5px,#ffb700 30.5px,#ffb800 34.5px,#ffc000 36.5px,#ffc800 52.5px,#ffbc00 92.5px,#ffb300 93.5px,#ff9d00 94.5px,#ff9c00 95.5px,#ffba00 97.5px,#ffbf00 186.5px,#ffc000 190.5px)"></i><i style="left:152px;width:4px;background:linear-gradient(#ffa800 0px,#ffa700 2.5px,#ff9700 3.5px,#ff9000 6.5px,#ff7d00 7.5px,#ff7d00 11.5px,#ff6300 13.5px,#ff5c00 16.5px,#ff4900 17.5px,#ff4f00 20.5px,#ff8600 21.5px,#ff8600 24.5px,#ff7200 25.5px,#ff7200 29.5px,#ff8300 30.5px,#ff8400 34.5px,#ff8d00 36.5px,#ff9500 53.5px,#ff9000 92.5px,#ff8600 93.5px,#ff7100 94.5px,#ff7000 95.5px,#ff8e00 97.5px,#ff9100 190.5px)"></i><i style="left:156px;width:3px;background:linear-gradient(#ffa800 0px,#ffa700 2.5px,#ff9700 3.5px,#ff9000 6.5px,#ff7d00 7.5px,#ff7d00 11.5px,#ff6300 13.5px,#ff5c00 16.5px,#ff4900 17.5px,#ff4f00 20.5px,#ff8600 21.5px,#ff8600 24.5px,#ff6100 25.5px,#ff6100 29.5px,#ff7200 30.5px,#ff7300 34.5px,#ff7b00 36.5px,#ff8400 53.5px,#ff7e00 92.5px,#ff7500 93.5px,#ff5f00 94.5px,#ff5f00 95.5px,#ff7d00 97.5px,#ff8000 190.5px)"></i><i style="left:159px;width:9px;background:linear-gradient(#ff8600 0px,#ff8500 2.5px,#ff7400 3.5px,#ff7000 6.5px,#ff6300 7.5px,#ff6300 15.5px,#ff5c00 16.5px,#ff4900 17.5px,#ff4a00 20.5px,#ff5100 22.5px,#ff5100 24.5px,#ff2d00 25.5px,#ff2d00 29.5px,#ff3e00 30.5px,#ff3f00 34.5px,#ff4800 36.5px,#ff5300 55.5px,#ff5900 92.5px,#ff5000 93.5px,#ff3b00 94.5px,#ff3b00 95.5px,#ff5a00 97.5px,#ff5700 190.5px)"></i><i style="left:168px;width:3px;background:linear-gradient(#ffff00 0px,#ffff00 11.5px,#ffdc00 13.5px,#ffdc00 15.5px,#ffd400 16.5px,#ffba00 17.5px,#ffba00 19.5px,#ffad00 20.5px,#ff3700 21.5px,#ff3700 48.5px,#fffd00 49.5px,#fff000 92.5px,#41ffbe 93.5px,#41ffbe 97.5px,#ffee00 98.5px,#fff300 186.5px,#fff400 190.5px)"></i></div>
<div class="hb" style="left:460px;top:293px;width:177px;height:190.5px"><i style="left:0px;width:1px;background:linear-gradient(#ff4900 0px,#ff6600 25.5px,#ffae00 36.5px,#ffe100 51.5px,#ffff00 72.5px,#fdff02 92.5px,#fff900 93.5px,#ffe700 94.5px,#ffe700 95.5px,#fdff02 97.5px,#f6ff09 190.5px)"></i><i style="left:1px;width:2px;background:linear-gradient(#0089ff 0px,#0089ff 2.5px,#ff4c00 3.5px,#ff5000 6.5px,#0089ff 7.5px,#0089ff 13.5px,#ff5800 14.5px,#ff6600 25.5px,#ffae00 36.5px,#ffe100 51.5px,#ffff00 72.5px,#fdff02 92.5px,#fff900 93.5px,#ffe700 94.5px,#ffe700 95.5px,#fdff02 97.5px,#f6ff09 190.5px)"></i><i style="left:3px;width:1px;background:linear-gradient(#ff4900 0px,#ff6600 25.5px,#ffae00 36.5px,#ffe100 51.5px,#ffff00 72.5px,#fdff02 92.5px,#fff900 93.5px,#ffe700 94.5px,#ffe700 95.5px,#fdff02 97.5px,#f6ff09 190.5px)"></i><i style="left:4px;width:3px;background:linear-gradient(#ff6c00 0px,#ff8900 25.5px,#ffd100 36.5px,#fff600 46.5px,#ffd700 47.5px,#ffff00 71.5px,#fdff02 92.5px,#fff900 93.5px,#ffe700 94.5px,#ffe700 95.5px,#fdff02 97.5px,#f6ff09 190.5px)"></i><i style="left:7px;width:3px;background:linear-gradient(#ff8600 0px,#ff8600 3.5px,#ddff22 4.5px,#a9ff56 5.5px,#a9ff56 92.5px,#b4ff4b 93.5px,#d0ff2f 94.5px,#d0ff2f 95.5px,#a9ff56 97.5px,#a9ff56 190.5px)"></i><i style="left:10px;width:5px;background:linear-gradient(#ffc200 0px,#ffc200 3.5px,#a6ff59 4.5px,#9dff62 6.5px,#9dff62 7.5px,#6dff92 8.5px,#6dff92 92.5px,#78ff87 93.5px,#93ff6c 94.5px,#93ff6c 95.5px,#6dff92 97.5px,#6dff92 190.5px)"></i><i style="left:15px;width:5px;background:linear-gradient(#ffc200 0px,#ffc200 3.5px,#91ff6e 4.5px,#88ff77 6.5px,#88ff77 7.5px,#05fffa 8.5px,#02fffd 87.5px,#00d9ff 92.5px,#00deff 93.5px,#00f4ff 94.5px,#00ecff 95.5px,#00b2ff 97.5px,#00a6ff 100.5px,#00a6ff 190.5px)"></i><i style="left:20px;width:3px;background:linear-gradient(#ffc200 0px,#ffc200 3.5px,#9dff62 4.5px,#94ff6b 6.5px,#94ff6b 7.5px,#41ffbe 8.5px,#41ffbe 92.5px,#4dffb2 93.5px,#68ff97 94.5px,#68ff97 95.5px,#41ffbe 97.5px,#41ffbe 190.5px)"></i><i style="left:23px;width:3px;background:linear-gradient(#ffc200 0px,#ffc200 3.5px,#8fff70 4.5px,#86ff79 6.5px,#86ff79 7.5px,#00fbff 8.5px,#00f9ff 87.5px,#00e1ff 92.5px,#00e9ff 93.5px,#03fffc 94.5px,#00feff 95.5px,#00c9ff 97.5px,#00c2ff 103.5px,#00c2ff 190.5px)"></i><i style="left:26px;width:4px;background:linear-gradient(#ffc200 0px,#ffc200 3.5px,#c7ff38 4.5px,#a7ff58 5.5px,#a0ff5f 15.5px,#a3ff5c 88.5px,#acff53 92.5px,#baff45 93.5px,#d7ff28 94.5px,#d9ff26 95.5px,#b7ff48 97.5px,#baff45 190.5px)"></i><i style="left:30px;width:1px;background:linear-gradient(#fff600 0px,#fff600 3.5px,#baff45 4.5px,#a7ff58 5.5px,#a0ff5f 15.5px,#a3ff5c 88.5px,#acff53 92.5px,#baff45 93.5px,#d7ff28 94.5px,#d9ff26 95.5px,#b7ff48 97.5px,#baff45 190.5px)"></i><i style="left:31px;width:3px;background:linear-gradient(#fff600 0px,#fff600 3.5px,#9aff65 4.5px,#94ff6b 7.5px,#41ffbe 8.5px,#45ffba 88.5px,#4dffb2 92.5px,#5bffa4 93.5px,#78ff87 94.5px,#7bff84 95.5px,#58ffa7 97.5px,#5bffa4 190.5px)"></i><i style="left:34px;width:4px;background:linear-gradient(#fff600 0px,#fff600 3.5px,#a3ff5c 4.5px,#9dff62 7.5px,#6dff92 8.5px,#70ff8f 88.5px,#78ff87 92.5px,#86ff79 93.5px,#a3ff5c 94.5px,#a6ff59 95.5px,#83ff7c 97.5px,#86ff79 190.5px)"></i><i style="left:38px;width:3px;background:linear-gradient(#fff600 0px,#fff600 3.5px,#9aff65 4.5px,#94ff6b 7.5px,#41ffbe 8.5px,#45ffba 88.5px,#4dffb2 92.5px,#5bffa4 93.5px,#78ff87 94.5px,#7bff84 95.5px,#58ffa7 97.5px,#5bffa4 190.5px)"></i><i style="left:41px;width:4px;background:linear-gradient(#fff600 0px,#fff600 3.5px,#adff52 4.5px,#a4ff5b 6.5px,#a4ff5b 7.5px,#8fff70 8.5px,#92ff6d 88.5px,#9bff64 92.5px,#a9ff56 93.5px,#c6ff39 94.5px,#c8ff37 95.5px,#a6ff59 97.5px,#a9ff56 190.5px)"></i><i style="left:45px;width:3px;background:linear-gradient(#fff600 0px,#fff600 3.5px,#9aff65 4.5px,#94ff6b 7.5px,#41ffbe 8.5px,#45ffba 88.5px,#4dffb2 92.5px,#5bffa4 93.5px,#78ff87 94.5px,#7bff84 95.5px,#58ffa7 97.5px,#5bffa4 190.5px)"></i><i style="left:48px;width:4px;background:linear-gradient(#fff600 0px,#fff600 3.5px,#c1ff3e 4.5px,#a9ff56 5.5px,#acff53 88.5px,#b5ff4a 92.5px,#c2ff3d 93.5px,#e0ff1f 94.5px,#e2ff1d 95.5px,#bfff40 97.5px,#c3ff3c 190.5px)"></i><i style="left:52px;width:3px;background:linear-gradient(#fff600 0px,#fff600 3.5px,#b4ff4b 4.5px,#a5ff5a 5.5px,#a5ff5a 7.5px,#98ff67 8.5px,#9bff64 88.5px,#a3ff5c 92.5px,#b1ff4e 93.5px,#cfff30 94.5px,#d1ff2e 95.5px,#aeff51 97.5px,#b1ff4e 190.5px)"></i><i style="left:55px;width:2px;background:linear-gradient(#d4ff2b 0px,#d7ff28 88.5px,#e0ff1f 92.5px,#eeff11 93.5px,#fff300 94.5px,#fff100 95.5px,#fcff03 96.5px,#ebff14 97.5px,#eeff11 190.5px)"></i><i style="left:57px;width:4px;background:linear-gradient(#a9ff56 0px,#a9ff56 3.5px,#7cff83 4.5px,#6dff92 5.5px,#70ff8f 88.5px,#78ff87 92.5px,#86ff79 93.5px,#a3ff5c 94.5px,#a6ff59 95.5px,#83ff7c 97.5px,#86ff79 190.5px)"></i><i style="left:61px;width:3px;background:linear-gradient(#a9ff56 0px,#acff53 88.5px,#b5ff4a 92.5px,#c2ff3d 93.5px,#e0ff1f 94.5px,#e2ff1d 95.5px,#bfff40 97.5px,#c3ff3c 190.5px)"></i><i style="left:64px;width:6px;background:linear-gradient(#a9ff56 0px,#a9ff56 3.5px,#7cff83 4.5px,#6dff92 5.5px,#70ff8f 88.5px,#78ff87 92.5px,#86ff79 93.5px,#a3ff5c 94.5px,#a6ff59 95.5px,#83ff7c 97.5px,#86ff79 190.5px)"></i><i style="left:70px;width:4px;background:linear-gradient(#eeff11 0px,#f1ff0e 88.5px,#faff05 92.5px,#fff700 93.5px,#ffd900 94.5px,#ffd700 95.5px,#fffa00 97.5px,#fff600 190.5px)"></i><i style="left:74px;width:3px;background:linear-gradient(#41ffbe 0px,#41ffbe 3.5px,#30ffcf 5.5px,#33ffcc 88.5px,#3cffc3 92.5px,#4affb5 93.5px,#67ff98 94.5px,#69ff96 95.5px,#47ffb8 97.5px,#4affb5 190.5px)"></i><i style="left:77px;width:3px;background:linear-gradient(#0afff5 0px,#00fdff 19.5px,#00d5ff 25.5px,#00d5ff 92.5px,#00e4ff 93.5px,#05fffa 94.5px,#05fffa 95.5px,#00d5ff 97.5px,#00d7ff 169.5px,#03fffc 180.5px,#05fffa 190.5px)"></i><i style="left:80px;width:7px;background:linear-gradient(#0099ff 0px,#0091ff 18.5px,#0064ff 25.5px,#0064ff 92.5px,#0072ff 93.5px,#0093ff 94.5px,#0093ff 95.5px,#0064ff 97.5px,#0066ff 169.5px,#0093ff 181.5px,#0093ff 190.5px)"></i><i style="left:87px;width:2px;background:linear-gradient(#00bfff 0px,#00b7ff 18.5px,#0089ff 25.5px,#0089ff 92.5px,#0098ff 93.5px,#00b9ff 94.5px,#00b9ff 95.5px,#0089ff 97.5px,#008bff 169.5px,#00b9ff 181.5px,#00b9ff 190.5px)"></i><i style="left:89px;width:2px;background:linear-gradient(#0099ff 0px,#0091ff 18.5px,#0064ff 25.5px,#0064ff 92.5px,#0072ff 93.5px,#0093ff 94.5px,#0093ff 95.5px,#0064ff 97.5px,#0066ff 169.5px,#0093ff 181.5px,#0093ff 190.5px)"></i><i style="left:91px;width:2px;background:linear-gradient(#00c8ff 0px,#00c0ff 18.5px,#0093ff 25.5px,#0093ff 92.5px,#00a1ff 93.5px,#00c2ff 94.5px,#00c2ff 95.5px,#0093ff 97.5px,#0095ff 169.5px,#00c2ff 181.5px,#00c2ff 190.5px)"></i><i style="left:93px;width:6px;background:linear-gradient(#00a2ff 0px,#009aff 18.5px,#006dff 25.5px,#006dff 92.5px,#007bff 93.5px,#009cff 94.5px,#009cff 95.5px,#006dff 97.5px,#006fff 169.5px,#009cff 181.5px,#009cff 190.5px)"></i><i style="left:99px;width:2px;background:linear-gradient(#2dffd2 0px,#26ffd9 18.5px,#00fbff 25.5px,#00fbff 92.5px,#09fff6 93.5px,#28ffd7 94.5px,#28ffd7 95.5px,#00fbff 97.5px,#02fffd 170.5px,#28ffd7 182.5px,#28ffd7 190.5px)"></i><i style="left:101px;width:3px;background:linear-gradient(#00a1ff 0px,#0096ff 18.5px,#005aff 25.5px,#005aff 92.5px,#0068ff 93.5px,#0089ff 94.5px,#0089ff 95.5px,#005aff 97.5px,#005cff 169.5px,#0089ff 181.5px,#0089ff 190.5px)"></i><i style="left:104px;width:1px;background:linear-gradient(#00f6ff 0px,#00ecff 18.5px,#00afff 25.5px,#00afff 92.5px,#00beff 93.5px,#00dfff 94.5px,#00dfff 95.5px,#00afff 97.5px,#00b1ff 169.5px,#00dfff 181.5px,#00dfff 190.5px)"></i><i style="left:105px;width:15px;background:linear-gradient(#0076ff 0px,#006cff 18.5px,#002fff 25.5px,#002fff 92.5px,#003eff 93.5px,#005fff 94.5px,#005fff 95.5px,#002fff 97.5px,#0031ff 169.5px,#005fff 181.5px,#005fff 190.5px)"></i><i style="left:120px;width:12px;background:linear-gradient(#006dff 0px,#0062ff 18.5px,#0026ff 25.5px,#0026ff 92.5px,#0034ff 93.5px,#0055ff 94.5px,#0055ff 95.5px,#0026ff 97.5px,#0028ff 169.5px,#0055ff 181.5px,#0055ff 190.5px)"></i><i style="left:132px;width:6px;background:linear-gradient(#00bdff 0px,#00b3ff 18.5px,#0076ff 25.5px,#0076ff 92.5px,#0085ff 93.5px,#00a6ff 94.5px,#00a6ff 95.5px,#0076ff 97.5px,#0078ff 169.5px,#00a6ff 181.5px,#00a6ff 190.5px)"></i><i style="left:138px;width:1px;background:linear-gradient(#82ff7d 0px,#78ff87 18.5px,#41ffbe 25.5px,#41ffbe 92.5px,#4effb1 93.5px,#6dff92 94.5px,#6dff92 95.5px,#41ffbe 97.5px,#43ffbc 169.5px,#6dff92 182.5px,#6dff92 190.5px)"></i><i style="left:139px;width:1px;background:linear-gradient(#ff7900 0px,#ff8200 18.5px,#ffba00 25.5px,#ffba00 92.5px,#ffad00 93.5px,#ff8e00 94.5px,#ff8e00 95.5px,#ffba00 97.5px,#ffb800 169.5px,#ff8e00 182.5px,#ff8e00 190.5px)"></i><i style="left:140px;width:6px;background:linear-gradient(#00e8ff 0px,#00e8ff 92.5px,#00f6ff 93.5px,#16ffe9 94.5px,#16ffe9 95.5px,#01fffe 96.5px,#00e8ff 97.5px,#00e8ff 190.5px)"></i><i style="left:146px;width:2px;background:linear-gradient(#30ffcf 0px,#30ffcf 92.5px,#3dffc2 93.5px,#5bffa4 94.5px,#5bffa4 95.5px,#30ffcf 97.5px,#30ffcf 190.5px)"></i><i style="left:148px;width:2px;background:linear-gradient(#c3ff3c 0px,#c3ff3c 92.5px,#d0ff2f 93.5px,#eeff11 94.5px,#eeff11 95.5px,#c3ff3c 97.5px,#c3ff3c 190.5px)"></i><i style="left:150px;width:2px;background:linear-gradient(#6dff92 0px,#6dff92 92.5px,#79ff86 93.5px,#98ff67 94.5px,#98ff67 95.5px,#6dff92 97.5px,#6dff92 190.5px)"></i><i style="left:152px;width:1px;background:linear-gradient(#ffba00 0px,#ffba00 92.5px,#ffad00 93.5px,#ff8e00 94.5px,#ff8e00 95.5px,#ffba00 97.5px,#ffba00 190.5px)"></i><i style="left:153px;width:3px;background:linear-gradient(#cbff34 0px,#cbff34 92.5px,#d8ff27 93.5px,#f6ff09 94.5px,#f6ff09 95.5px,#cbff34 97.5px,#cbff34 190.5px)"></i><i style="left:156px;width:2px;background:linear-gradient(#ffff00 0px,#ffff00 92.5px,#fff200 93.5px,#ffd400 94.5px,#ffd400 95.5px,#ffff00 97.5px,#ffff00 190.5px)"></i><i style="left:158px;width:2px;background:linear-gradient(#ffd400 0px,#ffd400 92.5px,#ffc700 93.5px,#ffa800 94.5px,#ffa800 95.5px,#ffd400 97.5px,#ffd400 190.5px)"></i><i style="left:160px;width:1px;background:linear-gradient(#ffd400 0px,#ffd400 92.5px,#ff4900 93.5px,#ff4900 96.5px,#ffd400 97.5px,#ffd400 190.5px)"></i><i style="left:161px;width:2px;background:linear-gradient(#ff8e00 0px,#ff8e00 92.5px,#ff4900 93.5px,#ff4900 96.5px,#ff8e00 97.5px,#ff8e00 190.5px)"></i><i style="left:163px;width:1px;background:linear-gradient(#ffff00 0px,#ffff00 92.5px,#ff4900 93.5px,#ff4900 96.5px,#ffff00 97.5px,#ffff00 190.5px)"></i><i style="left:164px;width:1px;background:linear-gradient(#ffff00 0px,#ffff00 92.5px,#eeff11 93.5px,#eeff11 96.5px,#ffff00 97.5px,#ffff00 190.5px)"></i><i style="left:165px;width:3px;background:linear-gradient(#ff5100 0px,#ff5100 92.5px,#ff3700 93.5px,#ff3700 96.5px,#ff5100 97.5px,#ff5100 190.5px)"></i><i style="left:168px;width:1px;background:linear-gradient(#ff5100 0px,#ff5100 92.5px,#6dff92 93.5px,#6dff92 96.5px,#ff5100 97.5px,#ff5100 190.5px)"></i><i style="left:169px;width:2px;background:linear-gradient(#ff8e00 0px,#ff8e00 92.5px,#ff4900 93.5px,#ff4900 96.5px,#ff8e00 97.5px,#ff8e00 190.5px)"></i><i style="left:171px;width:1px;background:linear-gradient(#ffe500 0px,#ffe500 92.5px,#eeff11 93.5px,#eeff11 96.5px,#ffe500 97.5px,#ffe500 190.5px)"></i><i style="left:172px;width:2px;background:linear-gradient(#ff7d00 0px,#ff7d00 92.5px,#ff4900 93.5px,#ff4900 96.5px,#ff7d00 97.5px,#ff7d00 190.5px)"></i><i style="left:174px;width:3px;background:linear-gradient(#ff7d00 0px,#ff7d00 92.5px,#ffe500 93.5px,#ffe500 96.5px,#ff7d00 97.5px,#ff7d00 190.5px)"></i></div>
<div id="cb"></div>
<svg width="800" height="600" viewBox="0 0 800 600">
<rect x="626.00" y="301.00" width="1.60" height="4.50" fill="#000818"/>
<rect x="633.00" y="296.00" width="1.50" height="4.00" fill="#0848ff"/>
<rect x="630.00" y="326.00" width="1.50" height="5.00" fill="#000818"/>
<rect x="634.00" y="293.00" width="3.00" height="4.00" fill="#28e0f8"/>
<rect x="629.50" y="369.00" width="1.40" height="4.50" fill="#0848ff"/>
<rect x="626.00" y="396.00" width="1.40" height="9.00" fill="#0848ff"/>
<rect x="633.00" y="403.00" width="1.40" height="5.00" fill="#0848ff"/>
<rect x="633.00" y="412.00" width="1.40" height="5.00" fill="#000818"/>
<rect x="633.00" y="423.00" width="1.40" height="8.00" fill="#0848ff"/>
<rect x="634.50" y="434.00" width="2.50" height="20.00" fill="#28e0f8"/>
<rect x="635.00" y="438.00" width="2.00" height="4.50" fill="#000818"/>
<rect x="621.50" y="468.00" width="1.40" height="15.00" fill="#0848ff"/>
<rect x="627.00" y="458.00" width="1.40" height="12.00" fill="#28e0f8"/>
<rect x="635.00" y="472.50" width="2.00" height="5.50" fill="#000818"/>
<rect x="633.00" y="446.00" width="1.40" height="6.00" fill="#0848ff"/>
<rect x="630.00" y="455.00" width="1.40" height="5.00" fill="#0848ff"/>
<rect x="184.00" y="58.80" width="1.30" height="5.00" fill="#28e0f8"/>
<rect x="184.00" y="93.80" width="1.30" height="4.00" fill="#0848ff"/>
<rect x="184.00" y="184.00" width="1.30" height="3.50" fill="#0848ff"/>
<rect x="184.00" y="202.00" width="1.30" height="4.50" fill="#0848ff"/>
<rect x="184.00" y="213.00" width="1.30" height="4.50" fill="#0848ff"/>
<rect x="181.00" y="185.00" width="1.40" height="4.50" fill="#28e0f8"/>
<rect x="181.00" y="220.00" width="1.40" height="3.50" fill="#28e0f8"/>
<rect x="460.00" y="214.00" width="1.50" height="4.00" fill="#28e0f8"/>
<rect x="461.50" y="219.00" width="2.00" height="4.50" fill="#ffe808"/>
<rect x="460.00" y="224.00" width="1.50" height="4.50" fill="#0848ff"/>
<rect x="463.00" y="224.00" width="2.00" height="4.50" fill="#ffe808"/>
<rect x="460.00" y="229.00" width="2.00" height="4.50" fill="#ffe808"/>
<rect x="462.50" y="229.00" width="1.50" height="4.50" fill="#28e0f8"/>
<rect x="464.50" y="233.00" width="2.00" height="5.00" fill="#ffe808"/>
<rect x="460.00" y="234.00" width="1.50" height="5.00" fill="#28e0f8"/>
<rect x="462.00" y="234.00" width="1.50" height="5.00" fill="#ffe808"/>
<rect x="181.50" y="317.50" width="1.30" height="4.50" fill="#0848ff"/>
<rect x="181.00" y="332.00" width="1.30" height="3.50" fill="#0848ff"/>
<rect x="181.00" y="300.00" width="1.20" height="5.00" fill="#28e0f8"/>
<rect x="185.50" y="352.00" width="1.20" height="4.50" fill="#28e0f8"/>
<rect x="181.50" y="470.00" width="1.30" height="5.00" fill="#0848ff"/>
<rect x="635.50" y="142.50" width="1.50" height="3.50" fill="#28e0f8"/>
<rect x="631.50" y="131.00" width="1.20" height="12.00" fill="#28e0f8"/>
<rect x="76.00" y="27.00" width="2.00" height="235.00" fill="#fff"/>
<rect x="647.30" y="27.00" width="1.70" height="235.00" fill="#fff"/>
<rect x="76.00" y="27.00" width="573.00" height="1.50" fill="#fff"/>
<rect x="76.00" y="260.50" width="573.00" height="1.50" fill="#fff"/>
<rect x="76.00" y="271.00" width="2.00" height="236.00" fill="#fff"/>
<rect x="647.30" y="271.00" width="1.70" height="236.00" fill="#fff"/>
<rect x="76.00" y="271.00" width="573.00" height="1.50" fill="#fff"/>
<rect x="76.00" y="505.50" width="573.00" height="1.50" fill="#fff"/>
<rect x="100.00" y="27.00" width="2.00" height="3.00" fill="#fff"/>
<rect x="100.00" y="259.00" width="2.00" height="3.00" fill="#fff"/>
<rect x="123.00" y="27.00" width="2.00" height="3.00" fill="#fff"/>
<rect x="123.00" y="259.00" width="2.00" height="3.00" fill="#fff"/>
<rect x="147.00" y="27.00" width="2.00" height="3.00" fill="#fff"/>
<rect x="147.00" y="259.00" width="2.00" height="3.00" fill="#fff"/>
<rect x="171.00" y="27.00" width="2.00" height="3.00" fill="#fff"/>
<rect x="171.00" y="259.00" width="2.00" height="3.00" fill="#fff"/>
<rect x="195.00" y="27.00" width="2.00" height="3.00" fill="#fff"/>
<rect x="195.00" y="259.00" width="2.00" height="3.00" fill="#fff"/>
<rect x="219.00" y="27.00" width="2.00" height="5.00" fill="#fff"/>
<rect x="219.00" y="257.00" width="2.00" height="5.00" fill="#fff"/>
<rect x="242.00" y="27.00" width="2.00" height="3.00" fill="#fff"/>
<rect x="242.00" y="259.00" width="2.00" height="3.00" fill="#fff"/>
<rect x="266.00" y="27.00" width="2.00" height="3.00" fill="#fff"/>
<rect x="266.00" y="259.00" width="2.00" height="3.00" fill="#fff"/>
<rect x="290.00" y="27.00" width="2.00" height="3.00" fill="#fff"/>
<rect x="290.00" y="259.00" width="2.00" height="3.00" fill="#fff"/>
<rect x="314.00" y="27.00" width="2.00" height="3.00" fill="#fff"/>
<rect x="314.00" y="259.00" width="2.00" height="3.00" fill="#fff"/>
<rect x="338.00" y="27.00" width="2.00" height="3.00" fill="#fff"/>
<rect x="338.00" y="259.00" width="2.00" height="3.00" fill="#fff"/>
<rect x="361.00" y="27.00" width="2.00" height="5.00" fill="#fff"/>
<rect x="361.00" y="257.00" width="2.00" height="5.00" fill="#fff"/>
<rect x="385.00" y="27.00" width="2.00" height="3.00" fill="#fff"/>
<rect x="385.00" y="259.00" width="2.00" height="3.00" fill="#fff"/>
<rect x="409.00" y="27.00" width="2.00" height="3.00" fill="#fff"/>
<rect x="409.00" y="259.00" width="2.00" height="3.00" fill="#fff"/>
<rect x="433.00" y="27.00" width="2.00" height="3.00" fill="#fff"/>
<rect x="433.00" y="259.00" width="2.00" height="3.00" fill="#fff"/>
<rect x="456.00" y="27.00" width="2.00" height="3.00" fill="#fff"/>
<rect x="456.00" y="259.00" width="2.00" height="3.00" fill="#fff"/>
<rect x="480.00" y="27.00" width="2.00" height="3.00" fill="#fff"/>
<rect x="480.00" y="259.00" width="2.00" height="3.00" fill="#fff"/>
<rect x="504.00" y="27.00" width="2.00" height="5.00" fill="#fff"/>
<rect x="504.00" y="257.00" width="2.00" height="5.00" fill="#fff"/>
<rect x="528.00" y="27.00" width="2.00" height="3.00" fill="#fff"/>
<rect x="528.00" y="259.00" width="2.00" height="3.00" fill="#fff"/>
<rect x="552.00" y="27.00" width="2.00" height="3.00" fill="#fff"/>
<rect x="552.00" y="259.00" width="2.00" height="3.00" fill="#fff"/>
<rect x="575.00" y="27.00" width="2.00" height="3.00" fill="#fff"/>
<rect x="575.00" y="259.00" width="2.00" height="3.00" fill="#fff"/>
<rect x="599.00" y="27.00" width="2.00" height="3.00" fill="#fff"/>
<rect x="599.00" y="259.00" width="2.00" height="3.00" fill="#fff"/>
<rect x="623.00" y="27.00" width="2.00" height="3.00" fill="#fff"/>
<rect x="623.00" y="259.00" width="2.00" height="3.00" fill="#fff"/>
<rect x="100.00" y="271.00" width="2.00" height="3.00" fill="#fff"/>
<rect x="100.00" y="504.00" width="2.00" height="3.00" fill="#fff"/>
<rect x="123.00" y="271.00" width="2.00" height="3.00" fill="#fff"/>
<rect x="123.00" y="504.00" width="2.00" height="3.00" fill="#fff"/>
<rect x="147.00" y="271.00" width="2.00" height="3.00" fill="#fff"/>
<rect x="147.00" y="504.00" width="2.00" height="3.00" fill="#fff"/>
<rect x="171.00" y="271.00" width="2.00" height="3.00" fill="#fff"/>
<rect x="171.00" y="504.00" width="2.00" height="3.00" fill="#fff"/>
<rect x="195.00" y="271.00" width="2.00" height="3.00" fill="#fff"/>
<rect x="195.00" y="504.00" width="2.00" height="3.00" fill="#fff"/>
<rect x="219.00" y="271.00" width="2.00" height="5.00" fill="#fff"/>
<rect x="219.00" y="502.00" width="2.00" height="5.00" fill="#fff"/>
<rect x="242.00" y="271.00" width="2.00" height="3.00" fill="#fff"/>
<rect x="242.00" y="504.00" width="2.00" height="3.00" fill="#fff"/>
<rect x="266.00" y="271.00" width="2.00" height="3.00" fill="#fff"/>
<rect x="266.00" y="504.00" width="2.00" height="3.00" fill="#fff"/>
<rect x="290.00" y="271.00" width="2.00" height="3.00" fill="#fff"/>
<rect x="290.00" y="504.00" width="2.00" height="3.00" fill="#fff"/>
<rect x="314.00" y="271.00" width="2.00" height="3.00" fill="#fff"/>
<rect x="314.00" y="504.00" width="2.00" height="3.00" fill="#fff"/>
<rect x="338.00" y="271.00" width="2.00" height="3.00" fill="#fff"/>
<rect x="338.00" y="504.00" width="2.00" height="3.00" fill="#fff"/>
<rect x="361.00" y="271.00" width="2.00" height="5.00" fill="#fff"/>
<rect x="361.00" y="502.00" width="2.00" height="5.00" fill="#fff"/>
<rect x="385.00" y="271.00" width="2.00" height="3.00" fill="#fff"/>
<rect x="385.00" y="504.00" width="2.00" height="3.00" fill="#fff"/>
<rect x="409.00" y="271.00" width="2.00" height="3.00" fill="#fff"/>
<rect x="409.00" y="504.00" width="2.00" height="3.00" fill="#fff"/>
<rect x="433.00" y="271.00" width="2.00" height="3.00" fill="#fff"/>
<rect x="433.00" y="504.00" width="2.00" height="3.00" fill="#fff"/>
<rect x="456.00" y="271.00" width="2.00" height="3.00" fill="#fff"/>
<rect x="456.00" y="504.00" width="2.00" height="3.00" fill="#fff"/>
<rect x="480.00" y="271.00" width="2.00" height="3.00" fill="#fff"/>
<rect x="480.00" y="504.00" width="2.00" height="3.00" fill="#fff"/>
<rect x="504.00" y="271.00" width="2.00" height="5.00" fill="#fff"/>
<rect x="504.00" y="502.00" width="2.00" height="5.00" fill="#fff"/>
<rect x="528.00" y="271.00" width="2.00" height="3.00" fill="#fff"/>
<rect x="528.00" y="504.00" width="2.00" height="3.00" fill="#fff"/>
<rect x="552.00" y="271.00" width="2.00" height="3.00" fill="#fff"/>
<rect x="552.00" y="504.00" width="2.00" height="3.00" fill="#fff"/>
<rect x="575.00" y="271.00" width="2.00" height="3.00" fill="#fff"/>
<rect x="575.00" y="504.00" width="2.00" height="3.00" fill="#fff"/>
<rect x="599.00" y="271.00" width="2.00" height="3.00" fill="#fff"/>
<rect x="599.00" y="504.00" width="2.00" height="3.00" fill="#fff"/>
<rect x="623.00" y="271.00" width="2.00" height="3.00" fill="#fff"/>
<rect x="623.00" y="504.00" width="2.00" height="3.00" fill="#fff"/>
<rect x="76.00" y="250.70" width="13.00" height="1.50" fill="#fff"/>
<rect x="636.00" y="250.70" width="13.00" height="1.50" fill="#fff"/>
<rect x="76.00" y="240.06" width="8.00" height="1.50" fill="#fff"/>
<rect x="641.00" y="240.06" width="8.00" height="1.50" fill="#fff"/>
<rect x="76.00" y="229.41" width="8.00" height="1.50" fill="#fff"/>
<rect x="641.00" y="229.41" width="8.00" height="1.50" fill="#fff"/>
<rect x="76.00" y="218.76" width="8.00" height="1.50" fill="#fff"/>
<rect x="641.00" y="218.76" width="8.00" height="1.50" fill="#fff"/>
<rect x="76.00" y="208.12" width="8.00" height="1.50" fill="#fff"/>
<rect x="641.00" y="208.12" width="8.00" height="1.50" fill="#fff"/>
<rect x="76.00" y="197.47" width="13.00" height="1.50" fill="#fff"/>
<rect x="636.00" y="197.47" width="13.00" height="1.50" fill="#fff"/>
<rect x="76.00" y="186.83" width="8.00" height="1.50" fill="#fff"/>
<rect x="641.00" y="186.83" width="8.00" height="1.50" fill="#fff"/>
<rect x="76.00" y="176.19" width="8.00" height="1.50" fill="#fff"/>
<rect x="641.00" y="176.19" width="8.00" height="1.50" fill="#fff"/>
<rect x="76.00" y="165.54" width="8.00" height="1.50" fill="#fff"/>
<rect x="641.00" y="165.54" width="8.00" height="1.50" fill="#fff"/>
<rect x="76.00" y="154.90" width="8.00" height="1.50" fill="#fff"/>
<rect x="641.00" y="154.90" width="8.00" height="1.50" fill="#fff"/>
<rect x="76.00" y="144.25" width="13.00" height="1.50" fill="#fff"/>
<rect x="636.00" y="144.25" width="13.00" height="1.50" fill="#fff"/>
<rect x="76.00" y="133.60" width="8.00" height="1.50" fill="#fff"/>
<rect x="641.00" y="133.60" width="8.00" height="1.50" fill="#fff"/>
<rect x="76.00" y="122.96" width="8.00" height="1.50" fill="#fff"/>
<rect x="641.00" y="122.96" width="8.00" height="1.50" fill="#fff"/>
<rect x="76.00" y="112.31" width="8.00" height="1.50" fill="#fff"/>
<rect x="641.00" y="112.31" width="8.00" height="1.50" fill="#fff"/>
<rect x="76.00" y="101.67" width="8.00" height="1.50" fill="#fff"/>
<rect x="641.00" y="101.67" width="8.00" height="1.50" fill="#fff"/>
<rect x="76.00" y="91.03" width="13.00" height="1.50" fill="#fff"/>
<rect x="636.00" y="91.03" width="13.00" height="1.50" fill="#fff"/>
<rect x="76.00" y="80.38" width="8.00" height="1.50" fill="#fff"/>
<rect x="641.00" y="80.38" width="8.00" height="1.50" fill="#fff"/>
<rect x="76.00" y="69.73" width="8.00" height="1.50" fill="#fff"/>
<rect x="641.00" y="69.73" width="8.00" height="1.50" fill="#fff"/>
<rect x="76.00" y="59.09" width="8.00" height="1.50" fill="#fff"/>
<rect x="641.00" y="59.09" width="8.00" height="1.50" fill="#fff"/>
<rect x="76.00" y="48.44" width="8.00" height="1.50" fill="#fff"/>
<rect x="641.00" y="48.44" width="8.00" height="1.50" fill="#fff"/>
<rect x="76.00" y="37.80" width="13.00" height="1.50" fill="#fff"/>
<rect x="636.00" y="37.80" width="13.00" height="1.50" fill="#fff"/>
<rect x="76.00" y="494.70" width="13.00" height="1.50" fill="#fff"/>
<rect x="636.00" y="494.70" width="13.00" height="1.50" fill="#fff"/>
<rect x="76.00" y="484.06" width="8.00" height="1.50" fill="#fff"/>
<rect x="641.00" y="484.06" width="8.00" height="1.50" fill="#fff"/>
<rect x="76.00" y="473.41" width="8.00" height="1.50" fill="#fff"/>
<rect x="641.00" y="473.41" width="8.00" height="1.50" fill="#fff"/>
<rect x="76.00" y="462.76" width="8.00" height="1.50" fill="#fff"/>
<rect x="641.00" y="462.76" width="8.00" height="1.50" fill="#fff"/>
<rect x="76.00" y="452.12" width="8.00" height="1.50" fill="#fff"/>
<rect x="641.00" y="452.12" width="8.00" height="1.50" fill="#fff"/>
<rect x="76.00" y="441.48" width="13.00" height="1.50" fill="#fff"/>
<rect x="636.00" y="441.48" width="13.00" height="1.50" fill="#fff"/>
<rect x="76.00" y="430.83" width="8.00" height="1.50" fill="#fff"/>
<rect x="641.00" y="430.83" width="8.00" height="1.50" fill="#fff"/>
<rect x="76.00" y="420.19" width="8.00" height="1.50" fill="#fff"/>
<rect x="641.00" y="420.19" width="8.00" height="1.50" fill="#fff"/>
<rect x="76.00" y="409.54" width="8.00" height="1.50" fill="#fff"/>
<rect x="641.00" y="409.54" width="8.00" height="1.50" fill="#fff"/>
<rect x="76.00" y="398.89" width="8.00" height="1.50" fill="#fff"/>
<rect x="641.00" y="398.89" width="8.00" height="1.50" fill="#fff"/>
<rect x="76.00" y="388.25" width="13.00" height="1.50" fill="#fff"/>
<rect x="636.00" y="388.25" width="13.00" height="1.50" fill="#fff"/>
<rect x="76.00" y="377.61" width="8.00" height="1.50" fill="#fff"/>
<rect x="641.00" y="377.61" width="8.00" height="1.50" fill="#fff"/>
<rect x="76.00" y="366.96" width="8.00" height="1.50" fill="#fff"/>
<rect x="641.00" y="366.96" width="8.00" height="1.50" fill="#fff"/>
<rect x="76.00" y="356.31" width="8.00" height="1.50" fill="#fff"/>
<rect x="641.00" y="356.31" width="8.00" height="1.50" fill="#fff"/>
<rect x="76.00" y="345.67" width="8.00" height="1.50" fill="#fff"/>
<rect x="641.00" y="345.67" width="8.00" height="1.50" fill="#fff"/>
<rect x="76.00" y="335.02" width="13.00" height="1.50" fill="#fff"/>
<rect x="636.00" y="335.02" width="13.00" height="1.50" fill="#fff"/>
<rect x="76.00" y="324.38" width="8.00" height="1.50" fill="#fff"/>
<rect x="641.00" y="324.38" width="8.00" height="1.50" fill="#fff"/>
<rect x="76.00" y="313.74" width="8.00" height="1.50" fill="#fff"/>
<rect x="641.00" y="313.74" width="8.00" height="1.50" fill="#fff"/>
<rect x="76.00" y="303.09" width="8.00" height="1.50" fill="#fff"/>
<rect x="641.00" y="303.09" width="8.00" height="1.50" fill="#fff"/>
<rect x="76.00" y="292.44" width="8.00" height="1.50" fill="#fff"/>
<rect x="641.00" y="292.44" width="8.00" height="1.50" fill="#fff"/>
<rect x="76.00" y="281.80" width="13.00" height="1.50" fill="#fff"/>
<rect x="636.00" y="281.80" width="13.00" height="1.50" fill="#fff"/>
<rect x="76.00" y="516.00" width="2.00" height="49.00" fill="#fff"/>
<rect x="76.00" y="516.00" width="573.00" height="1.50" fill="#fff"/>
<rect x="76.00" y="563.50" width="573.00" height="1.50" fill="#fff"/>
<rect x="647.30" y="516.00" width="1.70" height="49.00" fill="#f00"/>
<rect x="100.00" y="516.00" width="2.00" height="5.00" fill="#fff"/>
<rect x="100.00" y="560.00" width="2.00" height="5.00" fill="#fff"/>
<rect x="123.00" y="516.00" width="2.00" height="5.00" fill="#fff"/>
<rect x="123.00" y="560.00" width="2.00" height="5.00" fill="#fff"/>
<rect x="147.00" y="516.00" width="2.00" height="5.00" fill="#fff"/>
<rect x="147.00" y="560.00" width="2.00" height="5.00" fill="#fff"/>
<rect x="171.00" y="516.00" width="2.00" height="5.00" fill="#fff"/>
<rect x="171.00" y="560.00" width="2.00" height="5.00" fill="#fff"/>
<rect x="195.00" y="516.00" width="2.00" height="5.00" fill="#fff"/>
<rect x="195.00" y="560.00" width="2.00" height="5.00" fill="#fff"/>
<rect x="219.00" y="516.00" width="2.00" height="9.50" fill="#fff"/>
<rect x="219.00" y="555.50" width="2.00" height="9.50" fill="#fff"/>
<rect x="242.00" y="516.00" width="2.00" height="5.00" fill="#fff"/>
<rect x="242.00" y="560.00" width="2.00" height="5.00" fill="#fff"/>
<rect x="266.00" y="516.00" width="2.00" height="5.00" fill="#fff"/>
<rect x="266.00" y="560.00" width="2.00" height="5.00" fill="#fff"/>
<rect x="290.00" y="516.00" width="2.00" height="5.00" fill="#fff"/>
<rect x="290.00" y="560.00" width="2.00" height="5.00" fill="#fff"/>
<rect x="314.00" y="516.00" width="2.00" height="5.00" fill="#fff"/>
<rect x="314.00" y="560.00" width="2.00" height="5.00" fill="#fff"/>
<rect x="338.00" y="516.00" width="2.00" height="5.00" fill="#fff"/>
<rect x="338.00" y="560.00" width="2.00" height="5.00" fill="#fff"/>
<rect x="361.00" y="516.00" width="2.00" height="9.50" fill="#fff"/>
<rect x="361.00" y="555.50" width="2.00" height="9.50" fill="#fff"/>
<rect x="385.00" y="516.00" width="2.00" height="5.00" fill="#fff"/>
<rect x="385.00" y="560.00" width="2.00" height="5.00" fill="#fff"/>
<rect x="409.00" y="516.00" width="2.00" height="5.00" fill="#fff"/>
<rect x="409.00" y="560.00" width="2.00" height="5.00" fill="#fff"/>
<rect x="433.00" y="516.00" width="2.00" height="5.00" fill="#fff"/>
<rect x="433.00" y="560.00" width="2.00" height="5.00" fill="#fff"/>
<rect x="456.00" y="516.00" width="2.00" height="5.00" fill="#fff"/>
<rect x="456.00" y="560.00" width="2.00" height="5.00" fill="#fff"/>
<rect x="480.00" y="516.00" width="2.00" height="5.00" fill="#fff"/>
<rect x="480.00" y="560.00" width="2.00" height="5.00" fill="#fff"/>
<rect x="504.00" y="516.00" width="2.00" height="9.50" fill="#fff"/>
<rect x="504.00" y="555.50" width="2.00" height="9.50" fill="#fff"/>
<rect x="528.00" y="516.00" width="2.00" height="5.00" fill="#fff"/>
<rect x="528.00" y="560.00" width="2.00" height="5.00" fill="#fff"/>
<rect x="552.00" y="516.00" width="2.00" height="5.00" fill="#fff"/>
<rect x="552.00" y="560.00" width="2.00" height="5.00" fill="#fff"/>
<rect x="575.00" y="516.00" width="2.00" height="5.00" fill="#fff"/>
<rect x="575.00" y="560.00" width="2.00" height="5.00" fill="#fff"/>
<rect x="599.00" y="516.00" width="2.00" height="5.00" fill="#fff"/>
<rect x="599.00" y="560.00" width="2.00" height="5.00" fill="#fff"/>
<rect x="623.00" y="516.00" width="2.00" height="5.00" fill="#fff"/>
<rect x="623.00" y="560.00" width="2.00" height="5.00" fill="#fff"/>
<rect x="76.00" y="560.75" width="12.80" height="1.50" fill="#fff"/>
<rect x="76.00" y="553.45" width="8.00" height="1.50" fill="#fff"/>
<rect x="76.00" y="546.15" width="12.80" height="1.50" fill="#fff"/>
<rect x="76.00" y="538.85" width="8.00" height="1.50" fill="#fff"/>
<rect x="76.00" y="531.55" width="12.80" height="1.50" fill="#fff"/>
<rect x="76.00" y="524.25" width="8.00" height="1.50" fill="#fff"/>
<rect x="76.00" y="516.95" width="12.80" height="1.50" fill="#fff"/>
<rect x="637.40" y="563.55" width="11.60" height="1.30" fill="#f00"/>
<rect x="642.00" y="555.63" width="7.00" height="1.30" fill="#f00"/>
<rect x="637.40" y="547.72" width="11.60" height="1.30" fill="#f00"/>
<rect x="642.00" y="539.80" width="7.00" height="1.30" fill="#f00"/>
<rect x="637.40" y="531.88" width="11.60" height="1.30" fill="#f00"/>
<rect x="642.00" y="523.97" width="7.00" height="1.30" fill="#f00"/>
<rect x="637.40" y="516.05" width="11.60" height="1.30" fill="#f00"/>
<path d="M181.0,538.0C183.3,537.3 188.5,535.4 195.0,533.8C201.5,532.1 211.7,529.7 220.0,528.2C228.3,526.8 237.5,525.7 245.0,525.0C252.5,524.3 260.0,523.9 265.0,523.8C270.0,523.7 270.0,523.7 275.0,524.2C280.0,524.7 287.5,525.5 295.0,526.8C302.5,528.0 311.7,529.9 320.0,531.8C328.3,533.6 340.0,536.7 345.0,538.0C350.0,539.3 349.2,539.2 350.0,539.4" fill="none" stroke="#fff" stroke-width="1.3"/>
<polyline points="350.0,539.4 460.0,539.4" fill="none" stroke="#fff" stroke-width="1.3" stroke-linejoin="round"/>
<path d="M460.0,539.4C462.5,538.7 468.3,536.8 475.0,535.0C481.7,533.2 491.7,530.4 500.0,528.8C508.3,527.1 517.5,525.8 525.0,525.0C532.5,524.2 539.2,523.9 545.0,523.8C550.8,523.7 555.0,523.8 560.0,524.2C565.0,524.6 568.3,525.1 575.0,526.2C581.7,527.4 591.7,529.5 600.0,531.2C608.3,533.0 619.1,535.6 625.0,537.0C630.9,538.4 633.8,539.2 635.5,539.6" fill="none" stroke="#fff" stroke-width="1.3"/>
<path d="M181.0,547.5C183.3,546.8 188.5,545.5 195.0,543.2C201.5,541.0 211.7,537.1 220.0,534.2C228.3,531.4 238.0,528.2 245.0,526.2C252.0,524.3 257.8,523.3 262.0,522.6C266.2,521.9 267.0,522.0 270.0,522.0C273.0,522.0 275.8,521.9 280.0,522.5C284.2,523.1 288.3,523.7 295.0,525.8C301.7,527.8 311.7,531.8 320.0,535.0C328.3,538.2 340.0,543.0 345.0,545.0C350.0,547.0 349.2,546.7 350.0,547.0" fill="none" stroke="#f00" stroke-width="1.25"/>
<polyline points="350.0,547.0 404.0,546.8 405.0,545.6 461.0,545.2 505.0,516.6" fill="none" stroke="#f00" stroke-width="1.25" stroke-linejoin="round"/>
<polyline points="598.8,516.6 635.5,541.3" fill="none" stroke="#f00" stroke-width="1.25" stroke-linejoin="round"/>
<rect x="704.00" y="26.00" width="13.00" height="2.00" fill="#fff"/>
<rect x="704.00" y="26.00" width="1.20" height="479.50" fill="#fff"/>
<rect x="715.80" y="26.00" width="1.20" height="479.50" fill="#fff"/>
<rect x="704.00" y="504.50" width="13.00" height="1.20" fill="#fff"/>
<rect x="705.00" y="185.40" width="4.00" height="1.20" fill="#fff"/>
<rect x="712.00" y="185.40" width="4.00" height="1.20" fill="#fff"/>
<rect x="705.00" y="344.90" width="4.00" height="1.20" fill="#fff"/>
<rect x="712.00" y="344.90" width="4.00" height="1.20" fill="#fff"/>
<text x="73.40" y="21.6" font-size="14.2" fill="#fff" textLength="58.40" lengthAdjust="spacingAndGlyphs">TWINS1:</text>
<text x="134.40" y="21.6" font-size="14.2" fill="#fff" textLength="36.40" lengthAdjust="spacingAndGlyphs">Start</text>
<text x="178.15" y="21.6" font-size="14.2" fill="#fff" textLength="55.15" lengthAdjust="spacingAndGlyphs">Counts:</text>
<text x="242.90" y="21.6" font-size="14.2" fill="#fff" textLength="14.90" lengthAdjust="spacingAndGlyphs">10</text>
<text x="265.65" y="21.6" font-size="14.2" fill="#fff" textLength="25.15" lengthAdjust="spacingAndGlyphs">Oct</text>
<text x="297.40" y="21.6" font-size="14.2" fill="#fff" textLength="31.40" lengthAdjust="spacingAndGlyphs">(day</text>
<text x="336.40" y="21.6" font-size="14.2" fill="#fff" textLength="38.15" lengthAdjust="spacingAndGlyphs">283),</text>
<text x="382.65" y="21.6" font-size="14.2" fill="#fff" textLength="37.65" lengthAdjust="spacingAndGlyphs">2014</text>
<text x="434.40" y="21.6" font-size="14.2" fill="#f00" textLength="41.40" lengthAdjust="spacingAndGlyphs">NOTE:</text>
<text x="483.40" y="21.6" font-size="14.2" fill="#f00" textLength="32.00" lengthAdjust="spacingAndGlyphs">Data</text>
<text x="523.40" y="21.6" font-size="14.2" fill="#f00" textLength="80.40" lengthAdjust="spacingAndGlyphs">Preliminary</text>
<text x="612.40" y="21.6" font-size="14.2" fill="#f00" textLength="11.40" lengthAdjust="spacingAndGlyphs">&#8211;</text>
<text x="630.40" y="21.6" font-size="14.2" fill="#f00" textLength="25.40" lengthAdjust="spacingAndGlyphs">Not</text>
<text x="662.40" y="21.6" font-size="14.2" fill="#f00" textLength="63.90" lengthAdjust="spacingAndGlyphs">validated</text>
<text x="72.30" y="43.45" font-size="13.6" fill="#fff" text-anchor="end" letter-spacing="0.7">100</text>
<text x="72.30" y="96.68" font-size="13.6" fill="#fff" text-anchor="end" letter-spacing="0.7">50</text>
<text x="72.30" y="149.90" font-size="13.6" fill="#fff" text-anchor="end" letter-spacing="0.7">0</text>
<text x="72.30" y="203.12" font-size="13.6" fill="#fff" text-anchor="end" letter-spacing="0.7">&#8722;50</text>
<text x="72.30" y="256.35" font-size="13.6" fill="#fff" text-anchor="end" letter-spacing="0.7">&#8722;100</text>
<text x="72.30" y="287.45" font-size="13.6" fill="#fff" text-anchor="end" letter-spacing="0.7">100</text>
<text x="72.30" y="340.67" font-size="13.6" fill="#fff" text-anchor="end" letter-spacing="0.7">50</text>
<text x="72.30" y="393.90" font-size="13.6" fill="#fff" text-anchor="end" letter-spacing="0.7">0</text>
<text x="72.30" y="447.12" font-size="13.6" fill="#fff" text-anchor="end" letter-spacing="0.7">&#8722;50</text>
<text x="72.30" y="500.35" font-size="13.6" fill="#fff" text-anchor="end" letter-spacing="0.7">&#8722;100</text>
<text x="24.4" y="218.20" font-size="12.8" fill="#fff" textLength="44.90" lengthAdjust="spacingAndGlyphs" transform="rotate(-90 24.4 218.20)">Toward</text>
<text x="24.4" y="166.00" font-size="12.8" fill="#fff" textLength="55.00" lengthAdjust="spacingAndGlyphs" transform="rotate(-90 24.4 166.00)">Actuator</text>
<text x="24.4" y="104.90" font-size="12.8" fill="#fff" textLength="34.10" lengthAdjust="spacingAndGlyphs" transform="rotate(-90 24.4 104.90)">Angle</text>
<text x="24.4" y="457.10" font-size="12.8" fill="#fff" textLength="31.80" lengthAdjust="spacingAndGlyphs" transform="rotate(-90 24.4 457.10)">Away</text>
<text x="24.4" y="417.50" font-size="12.8" fill="#fff" textLength="54.90" lengthAdjust="spacingAndGlyphs" transform="rotate(-90 24.4 417.50)">Actuator</text>
<text x="24.4" y="355.90" font-size="12.8" fill="#fff" textLength="34.60" lengthAdjust="spacingAndGlyphs" transform="rotate(-90 24.4 355.90)">Angle</text>
<text x="90.00" y="582.80" font-size="13.6" fill="#fff" text-anchor="middle" letter-spacing="0.6">0:00</text>
<text x="219.30" y="582.80" font-size="13.6" fill="#fff" text-anchor="middle" letter-spacing="0.6">6:00</text>
<text x="362.80" y="582.80" font-size="13.6" fill="#fff" text-anchor="middle" letter-spacing="0.6">12:00</text>
<text x="505.50" y="582.80" font-size="13.6" fill="#fff" text-anchor="middle" letter-spacing="0.6">18:00</text>
<text x="627.50" y="582.80" font-size="13.6" fill="#fff" text-anchor="middle" letter-spacing="0.6">23:59</text>
<text x="362.50" y="598.20" font-size="14.2" fill="#fff" text-anchor="middle" textLength="63.5" lengthAdjust="spacing">Time (UT)</text>
<text x="63.6" y="524.5" font-size="11.4" fill="#fff" textLength="9.6" lengthAdjust="spacingAndGlyphs">8</text>
<text x="63.6" y="537.5" font-size="11.4" fill="#fff" textLength="9.6" lengthAdjust="spacingAndGlyphs">6</text>
<text x="63.6" y="552.4" font-size="11.4" fill="#fff" textLength="9.6" lengthAdjust="spacingAndGlyphs">4</text>
<text x="63.6" y="564.5" font-size="11.4" fill="#fff" textLength="9.6" lengthAdjust="spacingAndGlyphs">2</text>
<text x="51.6" y="540.5" font-size="12.4" fill="#fff" text-anchor="middle" transform="rotate(-90 51.6 540.5)" letter-spacing="0.5">R [R<tspan font-size="8" dy="2.5">E</tspan><tspan dy="-2.5">]</tspan></text>
<text x="651.8" y="525" font-size="11.4" fill="#f00" textLength="16.4" lengthAdjust="spacingAndGlyphs">30</text>
<text x="651.8" y="537.6" font-size="11.4" fill="#f00" textLength="16.4" lengthAdjust="spacingAndGlyphs">20</text>
<text x="651.8" y="553.4" font-size="11.4" fill="#f00" textLength="16.4" lengthAdjust="spacingAndGlyphs">10</text>
<text x="651.8" y="564.5" font-size="11.4" fill="#f00" textLength="8.4" lengthAdjust="spacingAndGlyphs">0</text>
<text x="682.80" y="541.00" font-size="11.8" fill="#f00" text-anchor="middle" transform="rotate(-90 682.80 541.00)" textLength="42.5" lengthAdjust="spacing">L Shell</text>
<text x="721" y="39.6" font-size="9" fill="#fff" stroke="#fff" stroke-width="0.25">10<tspan font-size="11.8" dy="-4.6" stroke="none">5</tspan></text>
<text x="721" y="195.6" font-size="9" fill="#fff" stroke="#fff" stroke-width="0.25">10<tspan font-size="11.8" dy="-4.6" stroke="none">4</tspan></text>
<text x="721" y="354.6" font-size="9" fill="#fff" stroke="#fff" stroke-width="0.25">10<tspan font-size="11.8" dy="-4.6" stroke="none">3</tspan></text>
<text x="720.60" y="507.20" font-size="13.6" fill="#fff" text-anchor="start" letter-spacing="0.7">100</text>
<text x="759.8" y="361.80" font-size="14.2" fill="#fff" textLength="23.90" lengthAdjust="spacingAndGlyphs" transform="rotate(-90 759.8 361.80)">LOG</text>
<text x="759.8" y="326.30" font-size="14.2" fill="#fff" textLength="7.40" lengthAdjust="spacingAndGlyphs" transform="rotate(-90 759.8 326.30)">(</text>
<text x="759.8" y="318.50" font-size="14.2" fill="#fff" textLength="28.20" lengthAdjust="spacingAndGlyphs" transform="rotate(-90 759.8 318.50)">Total</text>
<text x="759.8" y="287.10" font-size="14.2" fill="#fff" textLength="42.40" lengthAdjust="spacingAndGlyphs" transform="rotate(-90 759.8 287.10)">Starts</text>
<text x="759.8" y="236.30" font-size="14.2" fill="#fff" textLength="20.70" lengthAdjust="spacingAndGlyphs" transform="rotate(-90 759.8 236.30)">per</text>
<text x="759.8" y="209.50" font-size="14.2" fill="#fff" textLength="37.20" lengthAdjust="spacingAndGlyphs" transform="rotate(-90 759.8 209.50)">Scan)</text>
<text x="764.2" y="336.10" font-size="8.6" fill="#fff" textLength="10.10" lengthAdjust="spacingAndGlyphs" transform="rotate(-90 764.2 336.10)">10</text>
<text x="783.90" y="561.50" font-size="10.8" fill="#fff" text-anchor="middle" transform="rotate(-90 783.90 561.50)" textLength="50.5" lengthAdjust="spacing">22 Oct 14</text>
</svg>
</body></html>
